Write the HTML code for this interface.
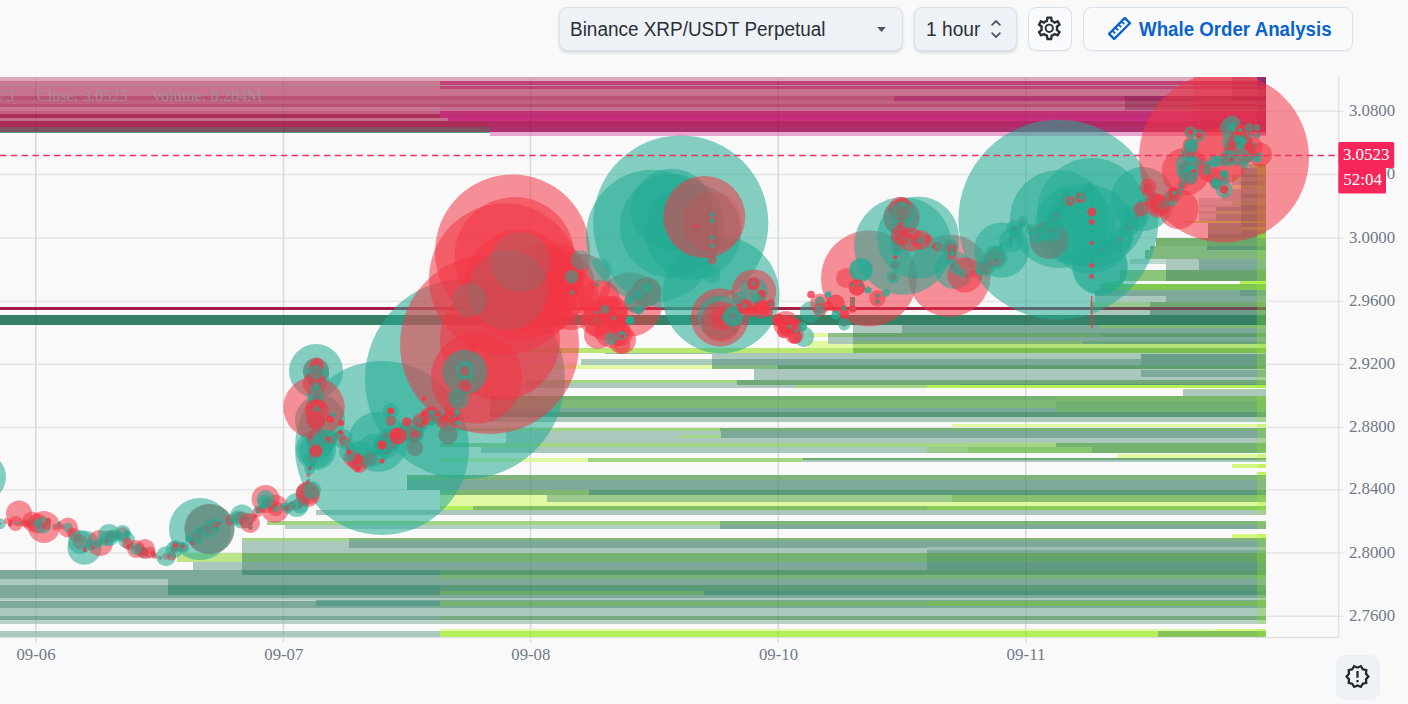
<!DOCTYPE html>
<html><head><meta charset="utf-8"><title>chart</title><style>
html,body{margin:0;padding:0}
body{width:1408px;height:704px;overflow:hidden;background:#f9f9f9;position:relative;font-family:"Liberation Sans",sans-serif}
.sel,.btn{position:absolute;top:6.9px;height:41.8px;border-radius:8.5px;box-sizing:content-box}
.sel{background:#eef1f5;border:1px solid #d8e0e8;box-shadow:0 1.5px 3px rgba(60,70,90,.18)}
.btn{background:#f9fafb;border:1px solid #d6e1ec;box-shadow:0 1px 2px rgba(60,70,90,.06)}
.t{position:absolute;top:10.4px;font-size:19.4px;line-height:22px;color:#2b3038;white-space:nowrap;transform-origin:0 50%}
.t.b{font-weight:bold;color:#0b63ce;top:9.8px}
.ib{position:absolute;left:1336.2px;top:655px;width:43.8px;height:45px;border-radius:9px;background:#eef1f5}
</style></head><body>
<svg width="1408" height="704" viewBox="0 0 1408 704" style="position:absolute;left:0;top:0" shape-rendering="auto">
<defs><clipPath id="cp"><rect x="0" y="77" width="1338.75" height="560"/></clipPath></defs>
<rect x="0" y="110.5" width="1343.75" height="1.5" fill="#e4e5e6"/>
<rect x="0" y="173.75" width="1343.75" height="1.5" fill="#e4e5e6"/>
<rect x="0" y="237.25" width="1343.75" height="1.5" fill="#e4e5e6"/>
<rect x="0" y="300.65" width="1343.75" height="1.5" fill="#e4e5e6"/>
<rect x="0" y="363.55" width="1343.75" height="1.5" fill="#e4e5e6"/>
<rect x="0" y="426.75" width="1343.75" height="1.5" fill="#e4e5e6"/>
<rect x="0" y="489.05" width="1343.75" height="1.5" fill="#e4e5e6"/>
<rect x="0" y="552.25" width="1343.75" height="1.5" fill="#e4e5e6"/>
<rect x="0" y="615.55" width="1343.75" height="1.5" fill="#e4e5e6"/>
<rect x="35.0" y="77" width="1.5" height="560" fill="#e4e5e6"/>
<rect x="282.75" y="77" width="1.5" height="560" fill="#e4e5e6"/>
<rect x="529.75" y="77" width="1.5" height="560" fill="#e4e5e6"/>
<rect x="777.5" y="77" width="1.5" height="560" fill="#e4e5e6"/>
<rect x="1025.0" y="77" width="1.5" height="560" fill="#e4e5e6"/>
<g clip-path="url(#cp)">
<g shape-rendering="crispEdges">
<rect x="852.75" y="324.50" width="48.75" height="8.50" fill="#abc8bd"/>
<rect x="901.50" y="324.50" width="364.00" height="8.50" fill="#7ca99a"/>
<rect x="1100.00" y="325.30" width="165.50" height="2.40" fill="#80b878"/>
<rect x="807.70" y="333.00" width="20.30" height="3.60" fill="#e0f9a2"/>
<rect x="828.00" y="333.00" width="24.75" height="3.60" fill="#8cc084"/>
<rect x="852.75" y="333.00" width="247.25" height="3.60" fill="#68a470"/>
<rect x="1100.00" y="333.00" width="165.50" height="3.60" fill="#5f9e70"/>
<rect x="828.00" y="336.60" width="24.75" height="3.90" fill="#abc8bd"/>
<rect x="852.75" y="336.60" width="412.75" height="3.90" fill="#7ca99a"/>
<rect x="807.70" y="340.50" width="20.30" height="3.25" fill="#e0f9a2"/>
<rect x="828.00" y="340.50" width="24.75" height="3.25" fill="#abc8bd"/>
<rect x="852.75" y="340.50" width="230.25" height="3.25" fill="#7cb474"/>
<rect x="1083.00" y="340.50" width="182.50" height="3.25" fill="#6aa47c"/>
<rect x="807.70" y="343.75" width="45.05" height="3.85" fill="#e0f9a2"/>
<rect x="852.75" y="343.75" width="412.75" height="3.85" fill="#b4e478"/>
<rect x="526.00" y="347.60" width="326.75" height="5.70" fill="#b8e870"/>
<rect x="852.75" y="347.60" width="412.75" height="5.70" fill="#7cc050"/>
<rect x="605.00" y="353.30" width="107.00" height="0.70" fill="#9dbdb0"/>
<rect x="712.00" y="353.30" width="553.50" height="0.70" fill="#abc8bd"/>
<rect x="712.00" y="354.00" width="553.50" height="5.00" fill="#abc8bd"/>
<rect x="580.50" y="359.00" width="131.50" height="5.60" fill="#abc8bd"/>
<rect x="712.00" y="359.00" width="553.50" height="5.60" fill="#7ca99a"/>
<rect x="526.00" y="364.60" width="186.00" height="4.40" fill="#e0f9a2"/>
<rect x="712.00" y="364.60" width="66.00" height="4.40" fill="#84ba84"/>
<rect x="778.00" y="364.60" width="487.50" height="4.40" fill="#5f9e70"/>
<rect x="754.00" y="369.00" width="511.50" height="10.50" fill="#abc8bd"/>
<rect x="526.00" y="379.50" width="210.75" height="3.50" fill="#a3d585"/>
<rect x="736.75" y="379.50" width="528.75" height="3.50" fill="#70a878"/>
<rect x="526.00" y="383.00" width="210.75" height="2.00" fill="#abc8bd"/>
<rect x="736.75" y="383.00" width="528.75" height="2.00" fill="#70a878"/>
<rect x="526.00" y="385.00" width="269.00" height="3.00" fill="#abc8bd"/>
<rect x="795.00" y="385.00" width="131.50" height="3.00" fill="#a3d585"/>
<rect x="926.50" y="385.00" width="339.00" height="3.00" fill="#b4ee58"/>
<rect x="489.50" y="396.00" width="776.00" height="4.00" fill="#74b272"/>
<rect x="489.50" y="400.00" width="776.00" height="8.00" fill="#80b878"/>
<rect x="489.50" y="408.00" width="776.00" height="3.50" fill="#7ca99a"/>
<rect x="489.50" y="411.50" width="776.00" height="5.25" fill="#5a9a78"/>
<rect x="489.50" y="416.75" width="776.00" height="5.25" fill="#abc8bd"/>
<rect x="951.50" y="423.75" width="314.00" height="3.25" fill="#e0f9a2"/>
<rect x="439.50" y="427.50" width="280.50" height="3.50" fill="#a3d585"/>
<rect x="720.00" y="427.50" width="545.50" height="3.50" fill="#78b078"/>
<rect x="506.00" y="431.00" width="214.50" height="4.00" fill="#abc8bd"/>
<rect x="720.50" y="431.00" width="545.00" height="4.00" fill="#7ca99a"/>
<rect x="506.00" y="435.00" width="173.00" height="2.50" fill="#abc8bd"/>
<rect x="679.00" y="435.00" width="41.50" height="2.50" fill="#a3d585"/>
<rect x="720.50" y="435.00" width="545.00" height="2.50" fill="#7ca99a"/>
<rect x="506.00" y="437.50" width="759.50" height="5.50" fill="#abc8bd"/>
<rect x="439.50" y="443.00" width="616.50" height="3.50" fill="#a3d585"/>
<rect x="1056.00" y="443.00" width="209.50" height="3.50" fill="#74b272"/>
<rect x="481.00" y="446.50" width="445.50" height="6.00" fill="#abc8bd"/>
<rect x="926.50" y="446.50" width="41.50" height="6.00" fill="#98cc88"/>
<rect x="968.00" y="446.50" width="124.00" height="6.00" fill="#88c870"/>
<rect x="1092.00" y="446.50" width="173.50" height="6.00" fill="#74b272"/>
<rect x="1117.00" y="454.00" width="148.50" height="3.50" fill="#e0f9a2"/>
<rect x="439.50" y="457.50" width="148.50" height="2.50" fill="#e0f9a2"/>
<rect x="588.00" y="457.50" width="214.75" height="2.50" fill="#a3d585"/>
<rect x="802.75" y="457.50" width="462.75" height="2.50" fill="#70a878"/>
<rect x="439.50" y="460.00" width="148.50" height="2.00" fill="#e0f9a2"/>
<rect x="588.00" y="460.00" width="214.75" height="2.00" fill="#a3d585"/>
<rect x="802.75" y="460.00" width="462.75" height="2.00" fill="#abc8bd"/>
<rect x="1232.00" y="464.00" width="33.50" height="3.50" fill="#d4f880"/>
<rect x="1257.00" y="472.00" width="8.50" height="2.50" fill="#d4f880"/>
<rect x="407.00" y="474.50" width="858.50" height="5.50" fill="#80b47c"/>
<rect x="407.00" y="480.00" width="858.50" height="9.75" fill="#7ca99a"/>
<rect x="439.50" y="489.75" width="149.25" height="5.25" fill="#80b870"/>
<rect x="588.75" y="489.75" width="676.75" height="5.25" fill="#5a9a78"/>
<rect x="439.50" y="495.00" width="107.50" height="7.00" fill="#e0f9a2"/>
<rect x="547.00" y="495.00" width="404.50" height="7.00" fill="#9cca8c"/>
<rect x="951.50" y="495.00" width="314.00" height="7.00" fill="#88c270"/>
<rect x="439.50" y="502.00" width="826.00" height="4.25" fill="#e0f9a2"/>
<rect x="439.50" y="506.25" width="33.50" height="3.75" fill="#b4ee58"/>
<rect x="473.00" y="506.25" width="453.50" height="3.75" fill="#80c060"/>
<rect x="926.50" y="506.25" width="339.00" height="3.75" fill="#88cc58"/>
<rect x="316.00" y="510.00" width="949.50" height="5.00" fill="#abc8bd"/>
<rect x="267.00" y="521.25" width="453.00" height="3.75" fill="#a3d585"/>
<rect x="720.00" y="521.25" width="545.50" height="3.75" fill="#80b47c"/>
<rect x="285.00" y="525.00" width="435.00" height="3.50" fill="#b4d0c6"/>
<rect x="720.00" y="525.00" width="545.50" height="3.50" fill="#7ca99a"/>
<rect x="1232.00" y="533.50" width="33.50" height="4.00" fill="#d4f880"/>
<rect x="242.00" y="538.00" width="107.00" height="3.25" fill="#a3d585"/>
<rect x="349.00" y="538.00" width="916.50" height="3.25" fill="#80b47c"/>
<rect x="242.00" y="541.25" width="107.00" height="6.25" fill="#abc8bd"/>
<rect x="349.00" y="541.25" width="916.50" height="6.25" fill="#7ca99a"/>
<rect x="242.00" y="547.50" width="684.50" height="5.00" fill="#abc8bd"/>
<rect x="926.50" y="547.50" width="339.00" height="5.00" fill="#7ca99a"/>
<rect x="926.50" y="547.00" width="339.00" height="2.70" fill="#9cc0b2"/>
<rect x="176.50" y="552.50" width="65.50" height="9.50" fill="#bde488"/>
<rect x="242.00" y="552.50" width="684.50" height="9.50" fill="#74b272"/>
<rect x="926.50" y="552.50" width="339.00" height="9.50" fill="#64a466"/>
<rect x="193.00" y="562.00" width="49.00" height="8.00" fill="#abc8bd"/>
<rect x="242.00" y="562.00" width="684.50" height="8.00" fill="#7ca99a"/>
<rect x="926.50" y="562.00" width="339.00" height="8.00" fill="#5f9a84"/>
<rect x="0.00" y="570.00" width="242.00" height="4.50" fill="#7ca99a"/>
<rect x="242.00" y="570.00" width="197.50" height="4.50" fill="#4f927e"/>
<rect x="439.50" y="570.00" width="826.00" height="4.50" fill="#5a9a70"/>
<rect x="0.00" y="574.50" width="439.50" height="4.25" fill="#7ca99a"/>
<rect x="439.50" y="574.50" width="826.00" height="4.25" fill="#78b478"/>
<rect x="0.00" y="578.75" width="168.00" height="6.25" fill="#abc8bd"/>
<rect x="168.00" y="578.75" width="1097.50" height="6.25" fill="#7ca99a"/>
<rect x="0.00" y="585.00" width="168.00" height="5.50" fill="#7ca99a"/>
<rect x="168.00" y="585.00" width="271.50" height="5.50" fill="#4f927e"/>
<rect x="439.50" y="585.00" width="826.00" height="5.50" fill="#5a9a78"/>
<rect x="0.00" y="590.50" width="168.00" height="4.25" fill="#7ca99a"/>
<rect x="168.00" y="590.50" width="271.50" height="4.25" fill="#4f927e"/>
<rect x="439.50" y="590.50" width="264.50" height="4.25" fill="#68a868"/>
<rect x="704.00" y="590.50" width="561.50" height="4.25" fill="#4f927e"/>
<rect x="0.00" y="594.75" width="1265.50" height="2.75" fill="#7ca99a"/>
<rect x="0.00" y="597.50" width="1265.50" height="2.00" fill="#abc8bd"/>
<rect x="0.00" y="599.50" width="316.00" height="1.50" fill="#c4d8d0"/>
<rect x="316.00" y="599.50" width="949.50" height="1.50" fill="#7ca99a"/>
<rect x="0.00" y="601.00" width="316.00" height="5.25" fill="#7ca99a"/>
<rect x="316.00" y="601.00" width="123.50" height="5.25" fill="#5a9a88"/>
<rect x="439.50" y="601.00" width="487.00" height="5.25" fill="#74b070"/>
<rect x="926.50" y="601.00" width="339.00" height="5.25" fill="#78b860"/>
<rect x="0.00" y="606.25" width="1265.50" height="1.25" fill="#7ca99a"/>
<rect x="0.00" y="607.50" width="1265.50" height="8.75" fill="#abc8bd"/>
<rect x="0.00" y="616.25" width="439.50" height="3.75" fill="#7ca99a"/>
<rect x="439.50" y="616.25" width="826.00" height="3.75" fill="#74aa7c"/>
<rect x="0.00" y="620.00" width="1265.50" height="3.75" fill="#b8d0c8"/>
<rect x="439.50" y="628.75" width="775.50" height="2.50" fill="#e0f9a2"/>
<rect x="1215.00" y="628.75" width="50.50" height="2.50" fill="#d4f880"/>
<rect x="0.00" y="631.25" width="439.50" height="5.75" fill="#abc8bd"/>
<rect x="439.50" y="631.25" width="718.50" height="5.75" fill="#b4ee58"/>
<rect x="1158.00" y="631.25" width="107.50" height="5.75" fill="#84c25c"/>
<rect x="1156.00" y="238.00" width="51.00" height="8.00" fill="#78b070"/>
<rect x="1207.00" y="238.00" width="58.50" height="8.00" fill="#6aa870"/>
<rect x="1150.00" y="246.00" width="57.00" height="4.00" fill="#80b880"/>
<rect x="1207.00" y="246.00" width="58.50" height="4.00" fill="#5a9a78"/>
<rect x="1145.00" y="250.00" width="120.50" height="8.50" fill="#80b880"/>
<rect x="1130.00" y="258.50" width="36.00" height="5.50" fill="#c0d8d0"/>
<rect x="1166.00" y="258.50" width="33.00" height="5.50" fill="#abc8bd"/>
<rect x="1199.00" y="258.50" width="66.50" height="5.50" fill="#7ca99a"/>
<rect x="1166.00" y="264.00" width="33.00" height="6.00" fill="#abc8bd"/>
<rect x="1199.00" y="264.00" width="66.50" height="6.00" fill="#7ca99a"/>
<rect x="1120.00" y="270.00" width="46.00" height="11.00" fill="#8cc47c"/>
<rect x="1166.00" y="270.00" width="99.50" height="11.00" fill="#68a470"/>
<rect x="1105.00" y="281.00" width="18.00" height="3.00" fill="#a8d888"/>
<rect x="1240.00" y="281.00" width="25.50" height="3.00" fill="#b0f050"/>
<rect x="1100.00" y="284.00" width="165.50" height="6.00" fill="#80c850"/>
<rect x="1095.00" y="290.00" width="145.00" height="6.00" fill="#7ca99a"/>
<rect x="1240.00" y="290.00" width="25.50" height="6.00" fill="#6a9e88"/>
<rect x="1095.00" y="296.00" width="71.00" height="5.50" fill="#abc8bd"/>
<rect x="1166.00" y="296.00" width="99.50" height="5.50" fill="#7ca99a"/>
<rect x="1090.00" y="301.50" width="60.00" height="5.50" fill="#98c890"/>
<rect x="1150.00" y="301.50" width="115.50" height="5.50" fill="#70a870"/>
<rect x="1090.00" y="310.25" width="60.00" height="5.00" fill="#abc8bd"/>
<rect x="1150.00" y="310.25" width="115.50" height="5.00" fill="#6a9e88"/>
<rect x="1141.00" y="354.00" width="124.50" height="5.00" fill="#6a9e88"/>
<rect x="1141.00" y="359.00" width="124.50" height="5.60" fill="#6a9e88"/>
<rect x="1141.00" y="369.60" width="124.50" height="6.90" fill="#7ca99a"/>
<rect x="960.00" y="383.80" width="305.50" height="1.40" fill="#5a9a78"/>
<rect x="1183.00" y="389.00" width="82.50" height="6.50" fill="#abc8bd"/>
<rect x="1056.00" y="395.50" width="209.50" height="5.50" fill="#78b868"/>
<rect x="1056.00" y="401.00" width="209.50" height="11.00" fill="#70b070"/>
<rect x="1248.50" y="164.30" width="8.90" height="3.70" fill="#a3d585"/>
<rect x="1257.40" y="164.30" width="8.10" height="3.70" fill="#84c25c"/>
<rect x="1240.80" y="168.00" width="16.60" height="5.50" fill="#7ca99a"/>
<rect x="1257.40" y="168.00" width="8.10" height="5.50" fill="#84c25c"/>
<rect x="1231.50" y="173.50" width="9.30" height="3.50" fill="#abc8bd"/>
<rect x="1240.80" y="173.50" width="24.70" height="3.50" fill="#5a9a78"/>
<rect x="1231.50" y="177.00" width="9.30" height="4.00" fill="#a3d585"/>
<rect x="1240.80" y="177.00" width="24.70" height="4.00" fill="#7ca99a"/>
<rect x="1231.50" y="181.00" width="9.30" height="4.00" fill="#abc8bd"/>
<rect x="1240.80" y="181.00" width="24.70" height="4.00" fill="#5a9a78"/>
<rect x="1231.50" y="185.00" width="9.30" height="3.50" fill="#e0f9a2"/>
<rect x="1240.80" y="185.00" width="24.70" height="3.50" fill="#74b272"/>
<rect x="1231.50" y="188.50" width="9.30" height="5.50" fill="#abc8bd"/>
<rect x="1240.80" y="188.50" width="24.70" height="5.50" fill="#7ca99a"/>
<rect x="1222.00" y="194.00" width="18.80" height="3.50" fill="#abc8bd"/>
<rect x="1240.80" y="194.00" width="24.70" height="3.50" fill="#5a9a78"/>
<rect x="1199.00" y="197.50" width="23.00" height="3.50" fill="#c4d8d0"/>
<rect x="1222.00" y="197.50" width="18.80" height="3.50" fill="#abc8bd"/>
<rect x="1240.80" y="197.50" width="24.70" height="3.50" fill="#7ca99a"/>
<rect x="1199.00" y="201.00" width="32.50" height="3.50" fill="#c4d8d0"/>
<rect x="1231.50" y="201.00" width="9.30" height="3.50" fill="#a3d585"/>
<rect x="1240.80" y="201.00" width="24.70" height="3.50" fill="#74b272"/>
<rect x="1199.00" y="204.50" width="41.80" height="2.50" fill="#abc8bd"/>
<rect x="1240.80" y="204.50" width="24.70" height="2.50" fill="#5a9a78"/>
<rect x="1199.00" y="207.00" width="16.80" height="4.00" fill="#c4d8d0"/>
<rect x="1215.80" y="207.00" width="25.00" height="4.00" fill="#7ca99a"/>
<rect x="1240.80" y="207.00" width="24.70" height="4.00" fill="#5a9a78"/>
<rect x="1199.00" y="211.00" width="16.80" height="3.00" fill="#abc8bd"/>
<rect x="1215.80" y="211.00" width="25.00" height="3.00" fill="#a3d585"/>
<rect x="1240.80" y="211.00" width="24.70" height="3.00" fill="#74b272"/>
<rect x="1199.00" y="214.00" width="16.80" height="4.00" fill="#c4d8d0"/>
<rect x="1215.80" y="214.00" width="25.00" height="4.00" fill="#7ca99a"/>
<rect x="1240.80" y="214.00" width="24.70" height="4.00" fill="#5a9a78"/>
<rect x="1199.00" y="218.00" width="16.80" height="2.60" fill="#abc8bd"/>
<rect x="1215.80" y="218.00" width="25.00" height="2.60" fill="#7ca99a"/>
<rect x="1240.80" y="218.00" width="24.70" height="2.60" fill="#5a9a78"/>
<rect x="1185.00" y="220.60" width="55.80" height="2.80" fill="#b4ee58"/>
<rect x="1240.80" y="220.60" width="24.70" height="2.80" fill="#84c25c"/>
<rect x="1207.50" y="223.40" width="33.30" height="3.60" fill="#7ca99a"/>
<rect x="1240.80" y="223.40" width="24.70" height="3.60" fill="#5a9a78"/>
<rect x="1207.50" y="227.00" width="33.30" height="3.00" fill="#74b272"/>
<rect x="1240.80" y="227.00" width="24.70" height="3.00" fill="#84c25c"/>
<rect x="1207.50" y="230.00" width="33.30" height="4.00" fill="#7ca99a"/>
<rect x="1240.80" y="230.00" width="24.70" height="4.00" fill="#5a9a78"/>
<rect x="1207.50" y="234.00" width="49.90" height="4.00" fill="#5a9a78"/>
<rect x="1257.40" y="234.00" width="8.10" height="4.00" fill="#84c25c"/>
<rect x="0.00" y="307.00" width="1265.50" height="3.25" fill="#a51c45"/>
<rect x="1090.00" y="307.00" width="175.50" height="3.25" fill="rgba(46,125,96,0.45)"/>
<rect x="0.00" y="315.25" width="1265.50" height="9.50" fill="#368066"/>
<rect x="0.00" y="77.00" width="1265.50" height="3.70" fill="#dba4b6" fill-opacity="0.96"/>
<rect x="0.00" y="80.70" width="439.50" height="3.80" fill="#c8728e" fill-opacity="0.96"/>
<rect x="439.50" y="80.70" width="826.00" height="3.80" fill="#c03a72" fill-opacity="0.96"/>
<rect x="0.00" y="84.50" width="439.50" height="1.70" fill="#a8888e" fill-opacity="0.96"/>
<rect x="439.50" y="84.50" width="826.00" height="1.70" fill="#b58a96" fill-opacity="0.96"/>
<rect x="0.00" y="86.20" width="439.50" height="2.55" fill="#c66c8a" fill-opacity="0.96"/>
<rect x="439.50" y="86.20" width="826.00" height="2.55" fill="#c03a72" fill-opacity="0.96"/>
<rect x="0.00" y="88.75" width="1265.50" height="6.85" fill="#c66c8a" fill-opacity="0.96"/>
<rect x="0.00" y="95.60" width="894.00" height="4.20" fill="#b84c70" fill-opacity="0.96"/>
<rect x="894.00" y="95.60" width="371.50" height="4.20" fill="#b0306a" fill-opacity="0.96"/>
<rect x="0.00" y="99.80" width="894.00" height="1.45" fill="#c05c7c" fill-opacity="0.96"/>
<rect x="894.00" y="99.80" width="371.50" height="1.45" fill="#b0306a" fill-opacity="0.96"/>
<rect x="0.00" y="101.25" width="1265.50" height="2.75" fill="#c05c7c" fill-opacity="0.96"/>
<rect x="0.00" y="104.00" width="1265.50" height="3.30" fill="#b54a6e" fill-opacity="0.96"/>
<rect x="0.00" y="107.30" width="439.50" height="3.20" fill="#c87090" fill-opacity="0.96"/>
<rect x="439.50" y="107.30" width="826.00" height="3.20" fill="#c4688a" fill-opacity="0.96"/>
<rect x="0.00" y="110.50" width="439.50" height="3.20" fill="#be5a7a" fill-opacity="0.96"/>
<rect x="439.50" y="110.50" width="826.00" height="3.20" fill="#c02a72" fill-opacity="0.96"/>
<rect x="0.00" y="113.70" width="439.50" height="4.30" fill="#a8254f" fill-opacity="0.96"/>
<rect x="439.50" y="113.70" width="826.00" height="4.30" fill="#bd2670" fill-opacity="0.96"/>
<rect x="0.00" y="118.00" width="448.00" height="3.00" fill="#c46a88" fill-opacity="0.96"/>
<rect x="448.00" y="118.00" width="817.50" height="3.00" fill="#c8287a" fill-opacity="0.96"/>
<rect x="0.00" y="121.00" width="489.50" height="6.00" fill="#a8234e" fill-opacity="0.96"/>
<rect x="489.50" y="121.00" width="776.00" height="6.00" fill="#b02060" fill-opacity="0.96"/>
<rect x="0.00" y="127.00" width="489.50" height="5.20" fill="#7a4a5c" fill-opacity="0.96"/>
<rect x="489.50" y="127.00" width="776.00" height="5.20" fill="#a82868" fill-opacity="0.96"/>
<rect x="0.00" y="132.20" width="489.50" height="1.00" fill="#4a9a80" fill-opacity="0.96"/>
<rect x="489.50" y="132.20" width="776.00" height="1.00" fill="#e8a0d0" fill-opacity="0.96"/>
<rect x="489.50" y="133.20" width="776.00" height="2.30" fill="#e8a0d0" fill-opacity="0.96"/>
<rect x="1125.00" y="96.25" width="140.50" height="13.75" fill="rgba(120,30,70,0.35)"/>
<rect x="1193.00" y="77.00" width="72.50" height="58.00" fill="rgba(200,30,60,0.25)"/>
<rect x="1232.00" y="77.00" width="33.50" height="23.00" fill="rgba(150,20,60,0.3)"/>
<rect x="1257.00" y="77.00" width="8.50" height="8.50" fill="rgba(110,20,110,0.6)"/>
<rect x="1257.00" y="85.50" width="8.50" height="49.50" fill="rgba(150,20,80,0.25)"/>
<rect x="1257.40" y="164.30" width="8.10" height="71.70" fill="rgba(170,220,30,0.35)"/>
<rect x="1257.40" y="236.00" width="8.10" height="152.00" fill="rgba(150,235,40,0.28)"/>
<rect x="1257.40" y="395.50" width="8.10" height="26.50" fill="rgba(150,235,40,0.28)"/>
<rect x="1257.40" y="423.75" width="8.10" height="28.75" fill="rgba(150,235,40,0.28)"/>
<rect x="1257.40" y="454.00" width="8.10" height="8.00" fill="rgba(150,235,40,0.28)"/>
<rect x="1257.40" y="464.00" width="8.10" height="3.50" fill="rgba(150,235,40,0.28)"/>
<rect x="1257.40" y="472.00" width="8.10" height="43.00" fill="rgba(150,235,40,0.28)"/>
<rect x="1257.40" y="521.00" width="8.10" height="7.50" fill="rgba(150,235,40,0.28)"/>
<rect x="1257.40" y="533.50" width="8.10" height="90.25" fill="rgba(150,235,40,0.28)"/>
<rect x="1257.40" y="628.75" width="8.10" height="8.25" fill="rgba(150,235,40,0.28)"/>
</g>
<g font-family="Liberation Serif, serif" font-size="16.4" fill="#9d9699" fill-opacity="0.85"><text x="-2.2" y="100.6">73</text><text x="36.75" y="100.6">Close: 3.0523</text><text x="151.25" y="100.6">Volume: 8.284M</text></g>
<rect x="35.0" y="77" width="1.5" height="560" fill="#000" fill-opacity="0.05"/>
<rect x="282.75" y="77" width="1.5" height="560" fill="#000" fill-opacity="0.05"/>
<rect x="529.75" y="77" width="1.5" height="560" fill="#000" fill-opacity="0.05"/>
<rect x="777.5" y="77" width="1.5" height="560" fill="#000" fill-opacity="0.05"/>
<rect x="1025.0" y="77" width="1.5" height="560" fill="#000" fill-opacity="0.05"/>
<circle cx="-18.0" cy="477.0" r="24.0" fill="#22ab94" fill-opacity="0.55"/>
<circle cx="465.0" cy="379.0" r="100.0" fill="#22ab94" fill-opacity="0.55"/>
<circle cx="382.0" cy="448.0" r="87.0" fill="#22ab94" fill-opacity="0.55"/>
<circle cx="489.5" cy="344.5" r="89.5" fill="#f23645" fill-opacity="0.55"/>
<circle cx="476.6" cy="377.8" r="45.6" fill="#f23645" fill-opacity="0.55"/>
<circle cx="500.0" cy="340.0" r="60.0" fill="#f23645" fill-opacity="0.55"/>
<circle cx="512.5" cy="252.0" r="77.5" fill="#f23645" fill-opacity="0.55"/>
<circle cx="514.5" cy="257.0" r="60.0" fill="#f23645" fill-opacity="0.55"/>
<circle cx="504.6" cy="279.0" r="75.6" fill="#f23645" fill-opacity="0.55"/>
<circle cx="520.0" cy="285.0" r="55.0" fill="#f23645" fill-opacity="0.55"/>
<circle cx="540.0" cy="290.0" r="45.0" fill="#f23645" fill-opacity="0.55"/>
<circle cx="560.0" cy="285.0" r="35.0" fill="#f23645" fill-opacity="0.55"/>
<circle cx="630.0" cy="304.6" r="32.0" fill="#f23645" fill-opacity="0.55"/>
<circle cx="597.0" cy="319.5" r="17.0" fill="#f23645" fill-opacity="0.55"/>
<circle cx="583.0" cy="282.0" r="28.0" fill="#f23645" fill-opacity="0.55"/>
<circle cx="570.0" cy="300.0" r="30.0" fill="#f23645" fill-opacity="0.55"/>
<circle cx="560.0" cy="268.0" r="24.0" fill="#f23645" fill-opacity="0.55"/>
<circle cx="520.5" cy="262.0" r="30.0" fill="#22ab94" fill-opacity="0.16"/>
<circle cx="508.0" cy="290.0" r="40.0" fill="#22ab94" fill-opacity="0.14"/>
<circle cx="470.0" cy="300.0" r="17.0" fill="#22ab94" fill-opacity="0.22"/>
<circle cx="680.7" cy="223.0" r="87.6" fill="#22ab94" fill-opacity="0.55"/>
<circle cx="652.4" cy="236.2" r="66.4" fill="#22ab94" fill-opacity="0.55"/>
<circle cx="671.7" cy="209.7" r="41.0" fill="#22ab94" fill-opacity="0.55"/>
<circle cx="672.0" cy="226.0" r="52.0" fill="#22ab94" fill-opacity="0.55"/>
<circle cx="693.0" cy="232.0" r="48.0" fill="#22ab94" fill-opacity="0.55"/>
<circle cx="721.0" cy="295.0" r="58.5" fill="#22ab94" fill-opacity="0.55"/>
<circle cx="704.3" cy="217.0" r="41.0" fill="#f23645" fill-opacity="0.55"/>
<circle cx="712.0" cy="222.0" r="30.0" fill="#f23645" fill-opacity="0.18"/>
<circle cx="869.0" cy="278.5" r="48.0" fill="#f23645" fill-opacity="0.55"/>
<circle cx="949.4" cy="275.7" r="41.3" fill="#f23645" fill-opacity="0.55"/>
<circle cx="903.0" cy="246.0" r="48.8" fill="#22ab94" fill-opacity="0.55"/>
<circle cx="918.0" cy="237.5" r="41.0" fill="#22ab94" fill-opacity="0.55"/>
<circle cx="901.5" cy="217.5" r="18.0" fill="#f23645" fill-opacity="0.55"/>
<circle cx="901.5" cy="217.5" r="18.0" fill="#22ab94" fill-opacity="0.55"/>
<circle cx="1058.4" cy="219.7" r="100.0" fill="#22ab94" fill-opacity="0.55"/>
<circle cx="1059.0" cy="219.0" r="49.0" fill="#22ab94" fill-opacity="0.55"/>
<circle cx="1091.7" cy="212.5" r="54.5" fill="#22ab94" fill-opacity="0.55"/>
<circle cx="1090.0" cy="229.5" r="44.0" fill="#22ab94" fill-opacity="0.55"/>
<circle cx="1100.0" cy="267.0" r="28.0" fill="#22ab94" fill-opacity="0.55"/>
<circle cx="1100.0" cy="267.0" r="27.0" fill="#22ab94" fill-opacity="0.4"/>
<circle cx="1075.0" cy="225.0" r="40.0" fill="#22ab94" fill-opacity="0.5"/>
<circle cx="1142.8" cy="199.0" r="32.0" fill="#22ab94" fill-opacity="0.55"/>
<circle cx="1049.0" cy="240.0" r="19.0" fill="#f23645" fill-opacity="0.55"/>
<circle cx="1049.0" cy="240.0" r="19.0" fill="#22ab94" fill-opacity="0.55"/>
<circle cx="1001.5" cy="250.0" r="27.5" fill="#22ab94" fill-opacity="0.55"/>
<circle cx="1224.0" cy="157.5" r="85.0" fill="#f23645" fill-opacity="0.55"/>
<circle cx="1219.5" cy="156.0" r="29.0" fill="#f23645" fill-opacity="0.55"/>
<circle cx="1185.5" cy="171.6" r="24.0" fill="#f23645" fill-opacity="0.55"/>
<circle cx="1178.6" cy="209.0" r="20.0" fill="#f23645" fill-opacity="0.55"/>
<circle cx="719.8" cy="317.4" r="29.0" fill="#f23645" fill-opacity="0.55"/>
<circle cx="719.8" cy="317.4" r="22.0" fill="#22ab94" fill-opacity="0.55"/>
<circle cx="721.0" cy="321.6" r="20.0" fill="#f23645" fill-opacity="0.55"/>
<circle cx="753.9" cy="291.8" r="22.4" fill="#f23645" fill-opacity="0.55"/>
<circle cx="753.9" cy="291.8" r="14.0" fill="#22ab94" fill-opacity="0.55"/>
<circle cx="316.0" cy="371.0" r="27.0" fill="#22ab94" fill-opacity="0.55"/>
<circle cx="320.0" cy="420.0" r="25.0" fill="#22ab94" fill-opacity="0.55"/>
<circle cx="316.0" cy="450.0" r="20.0" fill="#22ab94" fill-opacity="0.55"/>
<circle cx="378.0" cy="441.7" r="30.0" fill="#22ab94" fill-opacity="0.55"/>
<circle cx="314.0" cy="407.6" r="30.7" fill="#f23645" fill-opacity="0.55"/>
<circle cx="200.0" cy="529.0" r="31.0" fill="#22ab94" fill-opacity="0.55"/>
<circle cx="209.5" cy="529.0" r="25.0" fill="#f23645" fill-opacity="0.55"/>
<circle cx="209.5" cy="529.0" r="25.0" fill="#22ab94" fill-opacity="0.55"/>
<circle cx="954.0" cy="270.0" r="19.0" fill="#22ab94" fill-opacity="0.55"/>
<circle cx="965.0" cy="275.0" r="17.5" fill="#f23645" fill-opacity="0.55"/>
<circle cx="1239.7" cy="150.3" r="15.6" fill="#f23645" fill-opacity="0.55"/>
<circle cx="1239.7" cy="150.3" r="15.6" fill="#22ab94" fill-opacity="0.55"/>
<circle cx="19.0" cy="513.4" r="13.0" fill="#f23645" fill-opacity="0.55"/>
<circle cx="44.0" cy="526.9" r="16.0" fill="#f23645" fill-opacity="0.55"/>
<circle cx="84.4" cy="547.8" r="17.0" fill="#22ab94" fill-opacity="0.55"/>
<circle cx="100.0" cy="543.0" r="13.0" fill="#f23645" fill-opacity="0.55"/>
<circle cx="265.6" cy="499.0" r="14.0" fill="#f23645" fill-opacity="0.55"/>
<circle cx="275.0" cy="508.8" r="14.0" fill="#f23645" fill-opacity="0.55"/>
<circle cx="785.9" cy="323.8" r="12.8" fill="#f23645" fill-opacity="0.55"/>
<circle cx="646.7" cy="292.0" r="14.7" fill="#f23645" fill-opacity="0.55"/>
<circle cx="646.7" cy="292.0" r="14.7" fill="#22ab94" fill-opacity="0.55"/>
<circle cx="605.0" cy="318.0" r="22.0" fill="#f23645" fill-opacity="0.55"/>
<circle cx="612.0" cy="330.0" r="18.0" fill="#f23645" fill-opacity="0.55"/>
<circle cx="598.0" cy="335.0" r="14.0" fill="#f23645" fill-opacity="0.55"/>
<circle cx="622.0" cy="340.0" r="14.0" fill="#f23645" fill-opacity="0.55"/>
<circle cx="600.0" cy="300.0" r="20.0" fill="#f23645" fill-opacity="0.55"/>
<circle cx="612.0" cy="312.0" r="16.0" fill="#f23645" fill-opacity="0.7"/>
<circle cx="464.9" cy="372.0" r="22.4" fill="#f23645" fill-opacity="0.55"/>
<circle cx="464.9" cy="372.0" r="22.4" fill="#22ab94" fill-opacity="0.55"/>
<circle cx="373.7" cy="450.0" r="16.0" fill="#22ab94" fill-opacity="0.55"/>
<circle cx="360.0" cy="455.0" r="14.0" fill="#22ab94" fill-opacity="0.55"/>
<circle cx="316.0" cy="451.0" r="17.0" fill="#22ab94" fill-opacity="0.55"/>
<circle cx="316.0" cy="371.0" r="13.0" fill="#f23645" fill-opacity="0.55"/>
<circle cx="316.0" cy="371.0" r="13.0" fill="#22ab94" fill-opacity="0.55"/>
<rect x="850.00" y="297.00" width="5.00" height="14.00" fill="#a07060"/>
<line x1="1091.7" y1="296" x2="1091.7" y2="328" stroke="#f23645" stroke-width="1.5" stroke-opacity="0.8"/>
<line x1="316" y1="360" x2="316" y2="372" stroke="#22ab94" stroke-width="1.5" stroke-opacity="0.8"/>
<circle cx="0.1" cy="523.8" r="1.7" fill="#f23645" fill-opacity="0.55"/>
<circle cx="0.1" cy="523.8" r="5.5" fill="#22ab94" fill-opacity="0.55"/>
<circle cx="6.7" cy="520.9" r="3.0" fill="#f23645" fill-opacity="0.55"/>
<circle cx="6.7" cy="520.9" r="0.5" fill="#22ab94" fill-opacity="0.55"/>
<circle cx="11.0" cy="521.6" r="1.8" fill="#f23645" fill-opacity="0.55"/>
<circle cx="11.0" cy="521.6" r="0.6" fill="#22ab94" fill-opacity="0.55"/>
<circle cx="10.0" cy="524.5" r="2.0" fill="#f23645" fill-opacity="0.85"/>
<circle cx="15.5" cy="523.4" r="7.5" fill="#f23645" fill-opacity="0.55"/>
<circle cx="15.5" cy="523.4" r="1.4" fill="#22ab94" fill-opacity="0.55"/>
<circle cx="20.3" cy="523.3" r="1.1" fill="#f23645" fill-opacity="0.55"/>
<circle cx="20.3" cy="523.3" r="1.8" fill="#22ab94" fill-opacity="0.55"/>
<circle cx="25.3" cy="523.2" r="4.0" fill="#f23645" fill-opacity="0.55"/>
<circle cx="25.3" cy="523.2" r="0.9" fill="#22ab94" fill-opacity="0.55"/>
<circle cx="28.7" cy="524.0" r="4.0" fill="#f23645" fill-opacity="0.55"/>
<circle cx="28.7" cy="524.0" r="1.6" fill="#22ab94" fill-opacity="0.55"/>
<circle cx="27.9" cy="523.3" r="2.0" fill="#f23645" fill-opacity="0.85"/>
<circle cx="32.1" cy="521.5" r="10.0" fill="#f23645" fill-opacity="0.55"/>
<circle cx="32.1" cy="521.5" r="3.3" fill="#22ab94" fill-opacity="0.55"/>
<circle cx="37.7" cy="523.4" r="10.0" fill="#f23645" fill-opacity="0.55"/>
<circle cx="37.7" cy="523.4" r="2.9" fill="#22ab94" fill-opacity="0.55"/>
<circle cx="42.7" cy="525.3" r="3.6" fill="#f23645" fill-opacity="0.55"/>
<circle cx="42.7" cy="525.3" r="8.5" fill="#22ab94" fill-opacity="0.55"/>
<circle cx="46.3" cy="525.9" r="4.0" fill="#f23645" fill-opacity="0.55"/>
<circle cx="46.3" cy="525.9" r="0.5" fill="#22ab94" fill-opacity="0.55"/>
<circle cx="48.5" cy="522.8" r="2.6" fill="#f23645" fill-opacity="0.55"/>
<circle cx="48.5" cy="522.8" r="1.0" fill="#22ab94" fill-opacity="0.55"/>
<circle cx="48.5" cy="520.2" r="2.4" fill="#f23645" fill-opacity="0.85"/>
<circle cx="55.7" cy="527.0" r="3.4" fill="#f23645" fill-opacity="0.55"/>
<circle cx="55.7" cy="527.0" r="1.3" fill="#22ab94" fill-opacity="0.55"/>
<circle cx="59.2" cy="524.5" r="1.0" fill="#f23645" fill-opacity="0.55"/>
<circle cx="59.2" cy="524.5" r="2.6" fill="#22ab94" fill-opacity="0.55"/>
<circle cx="59.3" cy="522.6" r="1.3" fill="#22ab94" fill-opacity="0.85"/>
<circle cx="62.4" cy="526.8" r="2.6" fill="#f23645" fill-opacity="0.55"/>
<circle cx="62.4" cy="526.8" r="1.0" fill="#22ab94" fill-opacity="0.55"/>
<circle cx="67.9" cy="527.5" r="10.0" fill="#f23645" fill-opacity="0.55"/>
<circle cx="67.9" cy="527.5" r="4.8" fill="#22ab94" fill-opacity="0.55"/>
<circle cx="71.1" cy="531.9" r="4.6" fill="#f23645" fill-opacity="0.55"/>
<circle cx="71.1" cy="531.9" r="0.7" fill="#22ab94" fill-opacity="0.55"/>
<circle cx="70.4" cy="530.6" r="1.3" fill="#22ab94" fill-opacity="0.85"/>
<circle cx="74.4" cy="534.6" r="6.5" fill="#f23645" fill-opacity="0.55"/>
<circle cx="74.4" cy="534.6" r="0.8" fill="#22ab94" fill-opacity="0.55"/>
<circle cx="78.3" cy="537.8" r="4.0" fill="#f23645" fill-opacity="0.55"/>
<circle cx="78.3" cy="537.8" r="1.2" fill="#22ab94" fill-opacity="0.55"/>
<circle cx="79.2" cy="537.6" r="2.0" fill="#22ab94" fill-opacity="0.85"/>
<circle cx="80.2" cy="542.0" r="7.6" fill="#f23645" fill-opacity="0.55"/>
<circle cx="80.2" cy="542.0" r="12.0" fill="#22ab94" fill-opacity="0.55"/>
<circle cx="85.7" cy="547.2" r="1.2" fill="#f23645" fill-opacity="0.55"/>
<circle cx="85.7" cy="547.2" r="1.8" fill="#22ab94" fill-opacity="0.55"/>
<circle cx="84.9" cy="549.9" r="2.0" fill="#f23645" fill-opacity="0.85"/>
<circle cx="91.9" cy="545.1" r="2.4" fill="#f23645" fill-opacity="0.55"/>
<circle cx="91.9" cy="545.1" r="5.5" fill="#22ab94" fill-opacity="0.55"/>
<circle cx="92.9" cy="547.9" r="1.6" fill="#f23645" fill-opacity="0.85"/>
<circle cx="97.9" cy="544.1" r="2.6" fill="#f23645" fill-opacity="0.55"/>
<circle cx="97.9" cy="544.1" r="4.0" fill="#22ab94" fill-opacity="0.55"/>
<circle cx="101.4" cy="541.7" r="2.0" fill="#f23645" fill-opacity="0.55"/>
<circle cx="101.4" cy="541.7" r="4.0" fill="#22ab94" fill-opacity="0.55"/>
<circle cx="105.9" cy="538.5" r="1.5" fill="#f23645" fill-opacity="0.55"/>
<circle cx="105.9" cy="538.5" r="3.0" fill="#22ab94" fill-opacity="0.55"/>
<circle cx="106.8" cy="539.4" r="1.3" fill="#22ab94" fill-opacity="0.85"/>
<circle cx="107.2" cy="538.1" r="2.4" fill="#f23645" fill-opacity="0.55"/>
<circle cx="107.2" cy="538.1" r="7.5" fill="#22ab94" fill-opacity="0.55"/>
<circle cx="106.6" cy="541.2" r="2.4" fill="#f23645" fill-opacity="0.85"/>
<circle cx="110.6" cy="535.3" r="4.6" fill="#f23645" fill-opacity="0.55"/>
<circle cx="110.6" cy="535.3" r="1.4" fill="#22ab94" fill-opacity="0.55"/>
<circle cx="112.6" cy="535.9" r="4.9" fill="#f23645" fill-opacity="0.55"/>
<circle cx="112.6" cy="535.9" r="6.5" fill="#22ab94" fill-opacity="0.55"/>
<circle cx="118.7" cy="535.4" r="1.3" fill="#f23645" fill-opacity="0.55"/>
<circle cx="118.7" cy="535.4" r="4.0" fill="#22ab94" fill-opacity="0.55"/>
<circle cx="122.5" cy="533.6" r="6.5" fill="#f23645" fill-opacity="0.55"/>
<circle cx="122.5" cy="533.6" r="8.5" fill="#22ab94" fill-opacity="0.55"/>
<circle cx="127.0" cy="533.3" r="1.8" fill="#f23645" fill-opacity="0.55"/>
<circle cx="127.0" cy="533.3" r="3.4" fill="#22ab94" fill-opacity="0.55"/>
<circle cx="126.5" cy="540.0" r="3.8" fill="#f23645" fill-opacity="0.55"/>
<circle cx="126.5" cy="540.0" r="8.5" fill="#22ab94" fill-opacity="0.55"/>
<circle cx="127.8" cy="544.1" r="5.5" fill="#f23645" fill-opacity="0.55"/>
<circle cx="127.8" cy="544.1" r="0.9" fill="#22ab94" fill-opacity="0.55"/>
<circle cx="128.5" cy="546.3" r="1.3" fill="#f23645" fill-opacity="0.85"/>
<circle cx="128.3" cy="546.4" r="2.2" fill="#f23645" fill-opacity="0.55"/>
<circle cx="128.3" cy="546.4" r="0.7" fill="#22ab94" fill-opacity="0.55"/>
<circle cx="128.4" cy="548.7" r="1.3" fill="#f23645" fill-opacity="0.85"/>
<circle cx="132.8" cy="547.2" r="1.2" fill="#f23645" fill-opacity="0.55"/>
<circle cx="132.8" cy="547.2" r="2.2" fill="#22ab94" fill-opacity="0.55"/>
<circle cx="139.1" cy="549.2" r="5.5" fill="#f23645" fill-opacity="0.55"/>
<circle cx="139.1" cy="549.2" r="1.9" fill="#22ab94" fill-opacity="0.55"/>
<circle cx="139.1" cy="551.6" r="1.6" fill="#22ab94" fill-opacity="0.85"/>
<circle cx="143.5" cy="552.6" r="4.1" fill="#f23645" fill-opacity="0.55"/>
<circle cx="143.5" cy="552.6" r="5.5" fill="#22ab94" fill-opacity="0.55"/>
<circle cx="143.4" cy="551.8" r="2.0" fill="#22ab94" fill-opacity="0.85"/>
<circle cx="144.9" cy="548.9" r="10.0" fill="#f23645" fill-opacity="0.55"/>
<circle cx="144.9" cy="548.9" r="1.7" fill="#22ab94" fill-opacity="0.55"/>
<circle cx="152.9" cy="553.3" r="2.0" fill="#f23645" fill-opacity="0.55"/>
<circle cx="152.9" cy="553.3" r="2.6" fill="#22ab94" fill-opacity="0.55"/>
<circle cx="152.7" cy="553.2" r="1.6" fill="#f23645" fill-opacity="0.85"/>
<circle cx="154.8" cy="555.9" r="3.0" fill="#f23645" fill-opacity="0.55"/>
<circle cx="154.8" cy="555.9" r="0.8" fill="#22ab94" fill-opacity="0.55"/>
<circle cx="154.4" cy="555.6" r="1.3" fill="#22ab94" fill-opacity="0.85"/>
<circle cx="160.2" cy="557.7" r="2.2" fill="#f23645" fill-opacity="0.55"/>
<circle cx="160.2" cy="557.7" r="1.1" fill="#22ab94" fill-opacity="0.55"/>
<circle cx="166.0" cy="556.2" r="3.5" fill="#f23645" fill-opacity="0.55"/>
<circle cx="166.0" cy="556.2" r="10.0" fill="#22ab94" fill-opacity="0.55"/>
<circle cx="171.6" cy="555.9" r="4.6" fill="#f23645" fill-opacity="0.55"/>
<circle cx="171.6" cy="555.9" r="0.8" fill="#22ab94" fill-opacity="0.55"/>
<circle cx="174.2" cy="549.6" r="3.0" fill="#f23645" fill-opacity="0.55"/>
<circle cx="174.2" cy="549.6" r="8.5" fill="#22ab94" fill-opacity="0.55"/>
<circle cx="175.5" cy="546.7" r="4.7" fill="#f23645" fill-opacity="0.55"/>
<circle cx="175.5" cy="546.7" r="6.5" fill="#22ab94" fill-opacity="0.55"/>
<circle cx="175.4" cy="545.4" r="2.4" fill="#f23645" fill-opacity="0.85"/>
<circle cx="181.7" cy="544.8" r="2.3" fill="#f23645" fill-opacity="0.55"/>
<circle cx="181.7" cy="544.8" r="3.0" fill="#22ab94" fill-opacity="0.55"/>
<circle cx="183.7" cy="547.7" r="3.7" fill="#f23645" fill-opacity="0.55"/>
<circle cx="183.7" cy="547.7" r="5.5" fill="#22ab94" fill-opacity="0.55"/>
<circle cx="183.1" cy="546.5" r="1.3" fill="#f23645" fill-opacity="0.85"/>
<circle cx="188.0" cy="538.8" r="1.6" fill="#f23645" fill-opacity="0.55"/>
<circle cx="188.0" cy="538.8" r="3.0" fill="#22ab94" fill-opacity="0.55"/>
<circle cx="188.3" cy="540.0" r="2.4" fill="#22ab94" fill-opacity="0.85"/>
<circle cx="192.4" cy="541.4" r="2.4" fill="#f23645" fill-opacity="0.55"/>
<circle cx="192.4" cy="541.4" r="3.0" fill="#22ab94" fill-opacity="0.55"/>
<circle cx="192.8" cy="542.5" r="2.4" fill="#f23645" fill-opacity="0.85"/>
<circle cx="196.7" cy="536.9" r="4.9" fill="#f23645" fill-opacity="0.55"/>
<circle cx="196.7" cy="536.9" r="7.5" fill="#22ab94" fill-opacity="0.55"/>
<circle cx="195.8" cy="539.6" r="2.0" fill="#22ab94" fill-opacity="0.85"/>
<circle cx="198.4" cy="530.6" r="1.7" fill="#f23645" fill-opacity="0.55"/>
<circle cx="198.4" cy="530.6" r="3.4" fill="#22ab94" fill-opacity="0.55"/>
<circle cx="199.4" cy="531.0" r="1.6" fill="#f23645" fill-opacity="0.85"/>
<circle cx="201.0" cy="529.6" r="1.8" fill="#f23645" fill-opacity="0.55"/>
<circle cx="201.0" cy="529.6" r="4.0" fill="#22ab94" fill-opacity="0.55"/>
<circle cx="204.7" cy="528.6" r="2.4" fill="#f23645" fill-opacity="0.55"/>
<circle cx="204.7" cy="528.6" r="3.4" fill="#22ab94" fill-opacity="0.55"/>
<circle cx="204.5" cy="527.0" r="1.6" fill="#f23645" fill-opacity="0.85"/>
<circle cx="209.6" cy="529.0" r="5.8" fill="#f23645" fill-opacity="0.55"/>
<circle cx="209.6" cy="529.0" r="8.5" fill="#22ab94" fill-opacity="0.55"/>
<circle cx="214.9" cy="524.6" r="3.9" fill="#f23645" fill-opacity="0.55"/>
<circle cx="214.9" cy="524.6" r="6.5" fill="#22ab94" fill-opacity="0.55"/>
<circle cx="215.7" cy="525.6" r="1.6" fill="#f23645" fill-opacity="0.85"/>
<circle cx="219.5" cy="523.0" r="1.8" fill="#f23645" fill-opacity="0.55"/>
<circle cx="219.5" cy="523.0" r="0.8" fill="#22ab94" fill-opacity="0.55"/>
<circle cx="223.5" cy="521.8" r="0.5" fill="#f23645" fill-opacity="0.55"/>
<circle cx="223.5" cy="521.8" r="1.8" fill="#22ab94" fill-opacity="0.55"/>
<circle cx="227.8" cy="519.0" r="1.1" fill="#f23645" fill-opacity="0.55"/>
<circle cx="227.8" cy="519.0" r="1.8" fill="#22ab94" fill-opacity="0.55"/>
<circle cx="230.7" cy="519.8" r="5.5" fill="#f23645" fill-opacity="0.55"/>
<circle cx="230.7" cy="519.8" r="2.5" fill="#22ab94" fill-opacity="0.55"/>
<circle cx="231.2" cy="519.6" r="1.3" fill="#f23645" fill-opacity="0.85"/>
<circle cx="237.7" cy="517.9" r="5.9" fill="#f23645" fill-opacity="0.55"/>
<circle cx="237.7" cy="517.9" r="7.5" fill="#22ab94" fill-opacity="0.55"/>
<circle cx="242.0" cy="517.7" r="6.5" fill="#f23645" fill-opacity="0.55"/>
<circle cx="242.0" cy="517.7" r="2.3" fill="#22ab94" fill-opacity="0.55"/>
<circle cx="241.6" cy="518.9" r="2.0" fill="#f23645" fill-opacity="0.85"/>
<circle cx="246.3" cy="520.7" r="7.5" fill="#f23645" fill-opacity="0.55"/>
<circle cx="246.3" cy="520.7" r="1.2" fill="#22ab94" fill-opacity="0.55"/>
<circle cx="246.7" cy="519.0" r="2.4" fill="#22ab94" fill-opacity="0.85"/>
<circle cx="249.8" cy="523.9" r="1.7" fill="#f23645" fill-opacity="0.55"/>
<circle cx="249.8" cy="523.9" r="2.2" fill="#22ab94" fill-opacity="0.55"/>
<circle cx="250.5" cy="527.7" r="2.4" fill="#22ab94" fill-opacity="0.85"/>
<circle cx="254.0" cy="519.2" r="2.2" fill="#f23645" fill-opacity="0.55"/>
<circle cx="254.0" cy="519.2" r="0.8" fill="#22ab94" fill-opacity="0.55"/>
<circle cx="254.9" cy="516.3" r="2.0" fill="#f23645" fill-opacity="0.85"/>
<circle cx="257.2" cy="512.4" r="5.0" fill="#f23645" fill-opacity="0.55"/>
<circle cx="257.2" cy="512.4" r="1.3" fill="#22ab94" fill-opacity="0.55"/>
<circle cx="257.6" cy="511.6" r="1.6" fill="#f23645" fill-opacity="0.85"/>
<circle cx="258.4" cy="509.2" r="2.7" fill="#f23645" fill-opacity="0.55"/>
<circle cx="258.4" cy="509.2" r="4.0" fill="#22ab94" fill-opacity="0.55"/>
<circle cx="261.9" cy="509.1" r="3.4" fill="#f23645" fill-opacity="0.55"/>
<circle cx="261.9" cy="509.1" r="0.7" fill="#22ab94" fill-opacity="0.55"/>
<circle cx="262.6" cy="505.7" r="2.4" fill="#22ab94" fill-opacity="0.85"/>
<circle cx="265.4" cy="501.9" r="3.1" fill="#f23645" fill-opacity="0.55"/>
<circle cx="265.4" cy="501.9" r="7.5" fill="#22ab94" fill-opacity="0.55"/>
<circle cx="266.1" cy="501.7" r="2.7" fill="#f23645" fill-opacity="0.55"/>
<circle cx="266.1" cy="501.7" r="4.0" fill="#22ab94" fill-opacity="0.55"/>
<circle cx="271.2" cy="504.6" r="5.5" fill="#f23645" fill-opacity="0.55"/>
<circle cx="271.2" cy="504.6" r="1.8" fill="#22ab94" fill-opacity="0.55"/>
<circle cx="275.7" cy="508.7" r="7.5" fill="#f23645" fill-opacity="0.55"/>
<circle cx="275.7" cy="508.7" r="3.4" fill="#22ab94" fill-opacity="0.55"/>
<circle cx="282.9" cy="506.4" r="1.4" fill="#f23645" fill-opacity="0.55"/>
<circle cx="282.9" cy="506.4" r="3.4" fill="#22ab94" fill-opacity="0.55"/>
<circle cx="287.4" cy="508.2" r="3.4" fill="#f23645" fill-opacity="0.55"/>
<circle cx="287.4" cy="508.2" r="5.5" fill="#22ab94" fill-opacity="0.55"/>
<circle cx="286.5" cy="508.2" r="2.4" fill="#f23645" fill-opacity="0.85"/>
<circle cx="291.5" cy="506.2" r="4.6" fill="#f23645" fill-opacity="0.55"/>
<circle cx="291.5" cy="506.2" r="0.8" fill="#22ab94" fill-opacity="0.55"/>
<circle cx="291.2" cy="502.9" r="1.6" fill="#22ab94" fill-opacity="0.85"/>
<circle cx="296.8" cy="505.0" r="5.7" fill="#f23645" fill-opacity="0.55"/>
<circle cx="296.8" cy="505.0" r="12.0" fill="#22ab94" fill-opacity="0.55"/>
<circle cx="300.5" cy="503.8" r="1.9" fill="#f23645" fill-opacity="0.55"/>
<circle cx="300.5" cy="503.8" r="3.4" fill="#22ab94" fill-opacity="0.55"/>
<circle cx="300.6" cy="506.2" r="1.6" fill="#f23645" fill-opacity="0.85"/>
<circle cx="303.8" cy="500.8" r="3.6" fill="#f23645" fill-opacity="0.55"/>
<circle cx="303.8" cy="500.8" r="4.6" fill="#22ab94" fill-opacity="0.55"/>
<circle cx="305.6" cy="492.7" r="5.1" fill="#f23645" fill-opacity="0.55"/>
<circle cx="305.6" cy="492.7" r="10.0" fill="#22ab94" fill-opacity="0.55"/>
<circle cx="307.7" cy="495.1" r="12.0" fill="#f23645" fill-opacity="0.55"/>
<circle cx="307.7" cy="495.1" r="3.6" fill="#22ab94" fill-opacity="0.55"/>
<circle cx="307.3" cy="483.4" r="2.2" fill="#f23645" fill-opacity="0.55"/>
<circle cx="307.3" cy="483.4" r="1.1" fill="#22ab94" fill-opacity="0.55"/>
<circle cx="308.6" cy="480.0" r="0.5" fill="#f23645" fill-opacity="0.55"/>
<circle cx="308.6" cy="480.0" r="1.8" fill="#22ab94" fill-opacity="0.55"/>
<circle cx="307.7" cy="481.8" r="1.6" fill="#f23645" fill-opacity="0.85"/>
<circle cx="308.4" cy="475.0" r="2.2" fill="#f23645" fill-opacity="0.55"/>
<circle cx="308.4" cy="475.0" r="0.3" fill="#22ab94" fill-opacity="0.55"/>
<circle cx="309.1" cy="469.7" r="1.0" fill="#f23645" fill-opacity="0.55"/>
<circle cx="309.1" cy="469.7" r="1.8" fill="#22ab94" fill-opacity="0.55"/>
<circle cx="309.7" cy="469.2" r="2.1" fill="#f23645" fill-opacity="0.55"/>
<circle cx="309.7" cy="469.2" r="5.5" fill="#22ab94" fill-opacity="0.55"/>
<circle cx="310.1" cy="467.6" r="1.3" fill="#f23645" fill-opacity="0.85"/>
<circle cx="312.0" cy="464.0" r="1.9" fill="#f23645" fill-opacity="0.55"/>
<circle cx="312.0" cy="464.0" r="3.0" fill="#22ab94" fill-opacity="0.55"/>
<circle cx="311.0" cy="458.0" r="3.5" fill="#f23645" fill-opacity="0.55"/>
<circle cx="311.0" cy="458.0" r="7.5" fill="#22ab94" fill-opacity="0.55"/>
<circle cx="311.7" cy="454.5" r="2.4" fill="#22ab94" fill-opacity="0.85"/>
<circle cx="312.7" cy="454.0" r="1.2" fill="#f23645" fill-opacity="0.55"/>
<circle cx="312.7" cy="454.0" r="3.0" fill="#22ab94" fill-opacity="0.55"/>
<circle cx="313.5" cy="450.9" r="5.0" fill="#f23645" fill-opacity="0.55"/>
<circle cx="313.5" cy="450.9" r="1.4" fill="#22ab94" fill-opacity="0.55"/>
<circle cx="312.6" cy="443.1" r="2.1" fill="#f23645" fill-opacity="0.55"/>
<circle cx="312.6" cy="443.1" r="6.5" fill="#22ab94" fill-opacity="0.55"/>
<circle cx="312.4" cy="446.3" r="2.0" fill="#22ab94" fill-opacity="0.85"/>
<circle cx="314.8" cy="442.0" r="1.6" fill="#f23645" fill-opacity="0.55"/>
<circle cx="314.8" cy="442.0" r="2.6" fill="#22ab94" fill-opacity="0.55"/>
<circle cx="313.3" cy="437.2" r="4.0" fill="#f23645" fill-opacity="0.55"/>
<circle cx="313.3" cy="437.2" r="1.2" fill="#22ab94" fill-opacity="0.55"/>
<circle cx="312.5" cy="436.6" r="1.3" fill="#22ab94" fill-opacity="0.85"/>
<circle cx="314.6" cy="430.9" r="3.4" fill="#f23645" fill-opacity="0.55"/>
<circle cx="314.6" cy="430.9" r="1.5" fill="#22ab94" fill-opacity="0.55"/>
<circle cx="314.0" cy="427.8" r="3.0" fill="#f23645" fill-opacity="0.55"/>
<circle cx="314.0" cy="427.8" r="0.7" fill="#22ab94" fill-opacity="0.55"/>
<circle cx="314.6" cy="421.6" r="1.3" fill="#f23645" fill-opacity="0.55"/>
<circle cx="314.6" cy="421.6" r="4.6" fill="#22ab94" fill-opacity="0.55"/>
<circle cx="315.4" cy="419.7" r="1.3" fill="#22ab94" fill-opacity="0.85"/>
<circle cx="314.1" cy="416.2" r="6.5" fill="#f23645" fill-opacity="0.55"/>
<circle cx="314.1" cy="416.2" r="0.9" fill="#22ab94" fill-opacity="0.55"/>
<circle cx="315.7" cy="412.5" r="6.5" fill="#f23645" fill-opacity="0.55"/>
<circle cx="315.7" cy="412.5" r="3.0" fill="#22ab94" fill-opacity="0.55"/>
<circle cx="313.7" cy="407.1" r="3.9" fill="#f23645" fill-opacity="0.55"/>
<circle cx="313.7" cy="407.1" r="5.0" fill="#22ab94" fill-opacity="0.55"/>
<circle cx="313.6" cy="407.0" r="2.4" fill="#22ab94" fill-opacity="0.85"/>
<circle cx="315.7" cy="407.2" r="10.0" fill="#f23645" fill-opacity="0.55"/>
<circle cx="315.7" cy="407.2" r="1.8" fill="#22ab94" fill-opacity="0.55"/>
<circle cx="315.6" cy="409.4" r="1.3" fill="#f23645" fill-opacity="0.85"/>
<circle cx="314.9" cy="399.0" r="2.0" fill="#f23645" fill-opacity="0.55"/>
<circle cx="314.9" cy="399.0" r="7.5" fill="#22ab94" fill-opacity="0.55"/>
<circle cx="316.5" cy="398.7" r="3.4" fill="#f23645" fill-opacity="0.55"/>
<circle cx="316.5" cy="398.7" r="1.2" fill="#22ab94" fill-opacity="0.55"/>
<circle cx="317.5" cy="402.5" r="1.6" fill="#22ab94" fill-opacity="0.85"/>
<circle cx="315.3" cy="393.2" r="4.6" fill="#f23645" fill-opacity="0.55"/>
<circle cx="315.3" cy="393.2" r="8.5" fill="#22ab94" fill-opacity="0.55"/>
<circle cx="316.4" cy="385.8" r="1.5" fill="#f23645" fill-opacity="0.55"/>
<circle cx="316.4" cy="385.8" r="3.4" fill="#22ab94" fill-opacity="0.55"/>
<circle cx="315.2" cy="382.6" r="2.3" fill="#f23645" fill-opacity="0.55"/>
<circle cx="315.2" cy="382.6" r="6.5" fill="#22ab94" fill-opacity="0.55"/>
<circle cx="314.7" cy="382.8" r="1.3" fill="#22ab94" fill-opacity="0.85"/>
<circle cx="317.2" cy="376.2" r="4.5" fill="#f23645" fill-opacity="0.55"/>
<circle cx="317.2" cy="376.2" r="12.0" fill="#22ab94" fill-opacity="0.55"/>
<circle cx="316.9" cy="373.2" r="5.1" fill="#f23645" fill-opacity="0.55"/>
<circle cx="316.9" cy="373.2" r="6.5" fill="#22ab94" fill-opacity="0.55"/>
<circle cx="315.7" cy="370.3" r="2.3" fill="#f23645" fill-opacity="0.55"/>
<circle cx="315.7" cy="370.3" r="3.4" fill="#22ab94" fill-opacity="0.55"/>
<circle cx="316.3" cy="367.5" r="0.8" fill="#f23645" fill-opacity="0.55"/>
<circle cx="316.3" cy="367.5" r="1.8" fill="#22ab94" fill-opacity="0.55"/>
<circle cx="315.8" cy="368.3" r="1.6" fill="#22ab94" fill-opacity="0.85"/>
<circle cx="316.8" cy="363.8" r="6.5" fill="#f23645" fill-opacity="0.55"/>
<circle cx="316.8" cy="363.8" r="1.6" fill="#22ab94" fill-opacity="0.55"/>
<circle cx="316.9" cy="360.4" r="1.3" fill="#f23645" fill-opacity="0.85"/>
<circle cx="316.4" cy="367.2" r="7.5" fill="#f23645" fill-opacity="0.55"/>
<circle cx="316.4" cy="367.2" r="1.4" fill="#22ab94" fill-opacity="0.55"/>
<circle cx="315.5" cy="371.6" r="3.4" fill="#f23645" fill-opacity="0.55"/>
<circle cx="315.5" cy="371.6" r="1.4" fill="#22ab94" fill-opacity="0.55"/>
<circle cx="314.8" cy="378.6" r="7.5" fill="#f23645" fill-opacity="0.55"/>
<circle cx="314.8" cy="378.6" r="1.5" fill="#22ab94" fill-opacity="0.55"/>
<circle cx="314.8" cy="383.4" r="12.0" fill="#f23645" fill-opacity="0.55"/>
<circle cx="314.8" cy="383.4" r="1.9" fill="#22ab94" fill-opacity="0.55"/>
<circle cx="316.7" cy="384.8" r="1.6" fill="#f23645" fill-opacity="0.55"/>
<circle cx="316.7" cy="384.8" r="2.6" fill="#22ab94" fill-opacity="0.55"/>
<circle cx="316.3" cy="389.9" r="2.6" fill="#f23645" fill-opacity="0.55"/>
<circle cx="316.3" cy="389.9" r="0.7" fill="#22ab94" fill-opacity="0.55"/>
<circle cx="315.4" cy="389.0" r="1.6" fill="#22ab94" fill-opacity="0.85"/>
<circle cx="316.8" cy="393.6" r="4.0" fill="#f23645" fill-opacity="0.55"/>
<circle cx="316.8" cy="393.6" r="0.6" fill="#22ab94" fill-opacity="0.55"/>
<circle cx="317.0" cy="401.8" r="2.6" fill="#f23645" fill-opacity="0.55"/>
<circle cx="317.0" cy="401.8" r="0.9" fill="#22ab94" fill-opacity="0.55"/>
<circle cx="316.3" cy="405.3" r="6.5" fill="#f23645" fill-opacity="0.55"/>
<circle cx="316.3" cy="405.3" r="1.3" fill="#22ab94" fill-opacity="0.55"/>
<circle cx="316.0" cy="402.3" r="1.6" fill="#f23645" fill-opacity="0.85"/>
<circle cx="316.8" cy="411.4" r="12.0" fill="#f23645" fill-opacity="0.55"/>
<circle cx="316.8" cy="411.4" r="4.9" fill="#22ab94" fill-opacity="0.55"/>
<circle cx="316.0" cy="412.2" r="2.0" fill="#f23645" fill-opacity="0.85"/>
<circle cx="315.5" cy="415.7" r="4.0" fill="#f23645" fill-opacity="0.55"/>
<circle cx="315.5" cy="415.7" r="1.2" fill="#22ab94" fill-opacity="0.55"/>
<circle cx="316.3" cy="420.0" r="5.9" fill="#f23645" fill-opacity="0.55"/>
<circle cx="316.3" cy="420.0" r="10.0" fill="#22ab94" fill-opacity="0.55"/>
<circle cx="316.7" cy="426.2" r="1.9" fill="#f23645" fill-opacity="0.55"/>
<circle cx="316.7" cy="426.2" r="4.0" fill="#22ab94" fill-opacity="0.55"/>
<circle cx="316.8" cy="422.5" r="1.6" fill="#22ab94" fill-opacity="0.85"/>
<circle cx="316.6" cy="430.5" r="1.8" fill="#f23645" fill-opacity="0.55"/>
<circle cx="316.6" cy="430.5" r="0.7" fill="#22ab94" fill-opacity="0.55"/>
<circle cx="316.7" cy="432.6" r="4.2" fill="#f23645" fill-opacity="0.55"/>
<circle cx="316.7" cy="432.6" r="6.5" fill="#22ab94" fill-opacity="0.55"/>
<circle cx="317.2" cy="438.2" r="10.0" fill="#f23645" fill-opacity="0.55"/>
<circle cx="317.2" cy="438.2" r="1.8" fill="#22ab94" fill-opacity="0.55"/>
<circle cx="315.0" cy="443.9" r="2.6" fill="#f23645" fill-opacity="0.55"/>
<circle cx="315.0" cy="443.9" r="0.6" fill="#22ab94" fill-opacity="0.55"/>
<circle cx="315.9" cy="447.7" r="5.0" fill="#f23645" fill-opacity="0.55"/>
<circle cx="315.9" cy="447.7" r="1.0" fill="#22ab94" fill-opacity="0.55"/>
<circle cx="315.5" cy="444.0" r="1.6" fill="#f23645" fill-opacity="0.85"/>
<circle cx="317.1" cy="449.0" r="1.6" fill="#f23645" fill-opacity="0.55"/>
<circle cx="317.1" cy="449.0" r="4.6" fill="#22ab94" fill-opacity="0.55"/>
<circle cx="319.3" cy="447.8" r="6.0" fill="#f23645" fill-opacity="0.55"/>
<circle cx="319.3" cy="447.8" r="12.0" fill="#22ab94" fill-opacity="0.55"/>
<circle cx="324.2" cy="440.9" r="5.6" fill="#f23645" fill-opacity="0.55"/>
<circle cx="324.2" cy="440.9" r="12.0" fill="#22ab94" fill-opacity="0.55"/>
<circle cx="327.0" cy="440.1" r="2.9" fill="#f23645" fill-opacity="0.55"/>
<circle cx="327.0" cy="440.1" r="10.0" fill="#22ab94" fill-opacity="0.55"/>
<circle cx="327.9" cy="438.4" r="2.0" fill="#f23645" fill-opacity="0.85"/>
<circle cx="332.0" cy="439.5" r="4.0" fill="#f23645" fill-opacity="0.55"/>
<circle cx="332.0" cy="439.5" r="1.6" fill="#22ab94" fill-opacity="0.55"/>
<circle cx="335.2" cy="436.4" r="3.0" fill="#f23645" fill-opacity="0.55"/>
<circle cx="335.2" cy="436.4" r="4.0" fill="#22ab94" fill-opacity="0.55"/>
<circle cx="335.5" cy="432.5" r="1.3" fill="#22ab94" fill-opacity="0.85"/>
<circle cx="340.3" cy="435.6" r="4.6" fill="#f23645" fill-opacity="0.55"/>
<circle cx="340.3" cy="435.6" r="1.6" fill="#22ab94" fill-opacity="0.55"/>
<circle cx="342.8" cy="438.9" r="3.8" fill="#f23645" fill-opacity="0.55"/>
<circle cx="342.8" cy="438.9" r="10.0" fill="#22ab94" fill-opacity="0.55"/>
<circle cx="343.1" cy="441.9" r="2.0" fill="#22ab94" fill-opacity="0.85"/>
<circle cx="344.5" cy="441.6" r="5.5" fill="#f23645" fill-opacity="0.55"/>
<circle cx="344.5" cy="441.6" r="2.5" fill="#22ab94" fill-opacity="0.55"/>
<circle cx="347.8" cy="449.1" r="2.6" fill="#f23645" fill-opacity="0.55"/>
<circle cx="347.8" cy="449.1" r="1.2" fill="#22ab94" fill-opacity="0.55"/>
<circle cx="347.6" cy="447.1" r="1.3" fill="#f23645" fill-opacity="0.85"/>
<circle cx="349.6" cy="454.8" r="3.0" fill="#f23645" fill-opacity="0.55"/>
<circle cx="349.6" cy="454.8" r="0.5" fill="#22ab94" fill-opacity="0.55"/>
<circle cx="349.7" cy="455.9" r="1.6" fill="#f23645" fill-opacity="0.85"/>
<circle cx="351.7" cy="457.9" r="8.5" fill="#f23645" fill-opacity="0.55"/>
<circle cx="351.7" cy="457.9" r="3.5" fill="#22ab94" fill-opacity="0.55"/>
<circle cx="355.6" cy="461.2" r="8.5" fill="#f23645" fill-opacity="0.55"/>
<circle cx="355.6" cy="461.2" r="3.1" fill="#22ab94" fill-opacity="0.55"/>
<circle cx="355.2" cy="462.4" r="1.3" fill="#f23645" fill-opacity="0.85"/>
<circle cx="359.1" cy="464.5" r="8.5" fill="#f23645" fill-opacity="0.55"/>
<circle cx="359.1" cy="464.5" r="1.2" fill="#22ab94" fill-opacity="0.55"/>
<circle cx="363.8" cy="462.9" r="3.4" fill="#f23645" fill-opacity="0.55"/>
<circle cx="363.8" cy="462.9" r="1.2" fill="#22ab94" fill-opacity="0.55"/>
<circle cx="367.1" cy="456.8" r="2.1" fill="#f23645" fill-opacity="0.55"/>
<circle cx="367.1" cy="456.8" r="3.0" fill="#22ab94" fill-opacity="0.55"/>
<circle cx="368.0" cy="454.3" r="2.4" fill="#22ab94" fill-opacity="0.85"/>
<circle cx="369.9" cy="458.8" r="6.7" fill="#f23645" fill-opacity="0.55"/>
<circle cx="369.9" cy="458.8" r="8.5" fill="#22ab94" fill-opacity="0.55"/>
<circle cx="375.0" cy="454.3" r="0.9" fill="#f23645" fill-opacity="0.55"/>
<circle cx="375.0" cy="454.3" r="1.8" fill="#22ab94" fill-opacity="0.55"/>
<circle cx="378.8" cy="450.2" r="1.2" fill="#f23645" fill-opacity="0.55"/>
<circle cx="378.8" cy="450.2" r="2.2" fill="#22ab94" fill-opacity="0.55"/>
<circle cx="378.0" cy="451.2" r="1.6" fill="#22ab94" fill-opacity="0.85"/>
<circle cx="381.7" cy="447.0" r="5.1" fill="#f23645" fill-opacity="0.55"/>
<circle cx="381.7" cy="447.0" r="8.5" fill="#22ab94" fill-opacity="0.55"/>
<circle cx="380.8" cy="449.8" r="2.0" fill="#22ab94" fill-opacity="0.85"/>
<circle cx="386.4" cy="446.4" r="8.0" fill="#f23645" fill-opacity="0.55"/>
<circle cx="386.4" cy="446.4" r="12.0" fill="#22ab94" fill-opacity="0.55"/>
<circle cx="387.9" cy="441.1" r="9.0" fill="#f23645" fill-opacity="0.55"/>
<circle cx="387.9" cy="441.1" r="12.0" fill="#22ab94" fill-opacity="0.55"/>
<circle cx="391.8" cy="440.5" r="0.8" fill="#f23645" fill-opacity="0.55"/>
<circle cx="391.8" cy="440.5" r="2.6" fill="#22ab94" fill-opacity="0.55"/>
<circle cx="397.9" cy="435.1" r="2.6" fill="#f23645" fill-opacity="0.55"/>
<circle cx="397.9" cy="435.1" r="3.4" fill="#22ab94" fill-opacity="0.55"/>
<circle cx="398.7" cy="437.3" r="2.4" fill="#f23645" fill-opacity="0.85"/>
<circle cx="402.7" cy="427.6" r="2.5" fill="#f23645" fill-opacity="0.55"/>
<circle cx="402.7" cy="427.6" r="4.6" fill="#22ab94" fill-opacity="0.55"/>
<circle cx="401.8" cy="428.1" r="1.3" fill="#22ab94" fill-opacity="0.85"/>
<circle cx="404.3" cy="426.3" r="2.3" fill="#f23645" fill-opacity="0.55"/>
<circle cx="404.3" cy="426.3" r="3.4" fill="#22ab94" fill-opacity="0.55"/>
<circle cx="406.7" cy="424.0" r="2.6" fill="#f23645" fill-opacity="0.55"/>
<circle cx="406.7" cy="424.0" r="1.3" fill="#22ab94" fill-opacity="0.55"/>
<circle cx="411.1" cy="430.7" r="4.4" fill="#f23645" fill-opacity="0.55"/>
<circle cx="411.1" cy="430.7" r="12.0" fill="#22ab94" fill-opacity="0.55"/>
<circle cx="412.1" cy="433.9" r="8.0" fill="#f23645" fill-opacity="0.55"/>
<circle cx="412.1" cy="433.9" r="10.0" fill="#22ab94" fill-opacity="0.55"/>
<circle cx="414.7" cy="433.7" r="8.5" fill="#f23645" fill-opacity="0.55"/>
<circle cx="414.7" cy="433.7" r="1.3" fill="#22ab94" fill-opacity="0.55"/>
<circle cx="416.1" cy="430.6" r="5.5" fill="#f23645" fill-opacity="0.55"/>
<circle cx="416.1" cy="430.6" r="1.0" fill="#22ab94" fill-opacity="0.55"/>
<circle cx="420.3" cy="424.1" r="5.6" fill="#f23645" fill-opacity="0.55"/>
<circle cx="420.3" cy="424.1" r="8.5" fill="#22ab94" fill-opacity="0.55"/>
<circle cx="420.2" cy="420.8" r="7.5" fill="#f23645" fill-opacity="0.55"/>
<circle cx="420.2" cy="420.8" r="2.5" fill="#22ab94" fill-opacity="0.55"/>
<circle cx="420.6" cy="418.9" r="1.6" fill="#22ab94" fill-opacity="0.85"/>
<circle cx="422.1" cy="420.8" r="1.2" fill="#f23645" fill-opacity="0.55"/>
<circle cx="422.1" cy="420.8" r="3.0" fill="#22ab94" fill-opacity="0.55"/>
<circle cx="428.0" cy="416.6" r="8.5" fill="#f23645" fill-opacity="0.55"/>
<circle cx="428.0" cy="416.6" r="2.1" fill="#22ab94" fill-opacity="0.55"/>
<circle cx="431.7" cy="414.6" r="8.5" fill="#f23645" fill-opacity="0.55"/>
<circle cx="431.7" cy="414.6" r="4.2" fill="#22ab94" fill-opacity="0.55"/>
<circle cx="431.1" cy="411.8" r="1.6" fill="#f23645" fill-opacity="0.85"/>
<circle cx="438.3" cy="417.9" r="5.6" fill="#f23645" fill-opacity="0.55"/>
<circle cx="438.3" cy="417.9" r="7.5" fill="#22ab94" fill-opacity="0.55"/>
<circle cx="438.2" cy="414.0" r="2.4" fill="#f23645" fill-opacity="0.85"/>
<circle cx="441.5" cy="420.3" r="2.6" fill="#f23645" fill-opacity="0.55"/>
<circle cx="441.5" cy="420.3" r="0.6" fill="#22ab94" fill-opacity="0.55"/>
<circle cx="443.3" cy="422.3" r="6.5" fill="#f23645" fill-opacity="0.55"/>
<circle cx="443.3" cy="422.3" r="2.6" fill="#22ab94" fill-opacity="0.55"/>
<circle cx="448.9" cy="423.4" r="8.5" fill="#f23645" fill-opacity="0.55"/>
<circle cx="448.9" cy="423.4" r="2.9" fill="#22ab94" fill-opacity="0.55"/>
<circle cx="448.2" cy="422.9" r="2.0" fill="#22ab94" fill-opacity="0.85"/>
<circle cx="451.1" cy="417.0" r="8.5" fill="#f23645" fill-opacity="0.55"/>
<circle cx="451.1" cy="417.0" r="3.3" fill="#22ab94" fill-opacity="0.55"/>
<circle cx="451.0" cy="413.2" r="2.4" fill="#f23645" fill-opacity="0.85"/>
<circle cx="455.2" cy="416.2" r="4.0" fill="#f23645" fill-opacity="0.55"/>
<circle cx="455.2" cy="416.2" r="1.7" fill="#22ab94" fill-opacity="0.55"/>
<circle cx="456.1" cy="412.5" r="1.6" fill="#22ab94" fill-opacity="0.85"/>
<circle cx="457.6" cy="413.7" r="1.6" fill="#f23645" fill-opacity="0.55"/>
<circle cx="457.6" cy="413.7" r="2.2" fill="#22ab94" fill-opacity="0.55"/>
<circle cx="457.9" cy="403.6" r="4.0" fill="#f23645" fill-opacity="0.55"/>
<circle cx="457.9" cy="403.6" r="1.3" fill="#22ab94" fill-opacity="0.55"/>
<circle cx="458.8" cy="399.2" r="7.6" fill="#f23645" fill-opacity="0.55"/>
<circle cx="458.8" cy="399.2" r="10.0" fill="#22ab94" fill-opacity="0.55"/>
<circle cx="460.9" cy="392.8" r="0.5" fill="#f23645" fill-opacity="0.55"/>
<circle cx="460.9" cy="392.8" r="1.8" fill="#22ab94" fill-opacity="0.55"/>
<circle cx="462.5" cy="388.6" r="1.3" fill="#f23645" fill-opacity="0.55"/>
<circle cx="462.5" cy="388.6" r="3.0" fill="#22ab94" fill-opacity="0.55"/>
<circle cx="465.3" cy="384.8" r="5.0" fill="#f23645" fill-opacity="0.55"/>
<circle cx="465.3" cy="384.8" r="1.0" fill="#22ab94" fill-opacity="0.55"/>
<circle cx="466.0" cy="385.8" r="2.4" fill="#f23645" fill-opacity="0.85"/>
<circle cx="465.8" cy="379.6" r="4.5" fill="#f23645" fill-opacity="0.55"/>
<circle cx="465.8" cy="379.6" r="7.5" fill="#22ab94" fill-opacity="0.55"/>
<circle cx="466.4" cy="371.5" r="1.8" fill="#f23645" fill-opacity="0.55"/>
<circle cx="466.4" cy="371.5" r="2.6" fill="#22ab94" fill-opacity="0.55"/>
<circle cx="466.8" cy="368.7" r="2.9" fill="#f23645" fill-opacity="0.55"/>
<circle cx="466.8" cy="368.7" r="4.6" fill="#22ab94" fill-opacity="0.55"/>
<circle cx="718.1" cy="317.6" r="4.0" fill="#f23645" fill-opacity="0.55"/>
<circle cx="718.1" cy="317.6" r="1.2" fill="#22ab94" fill-opacity="0.55"/>
<circle cx="722.3" cy="318.2" r="12.0" fill="#f23645" fill-opacity="0.55"/>
<circle cx="722.3" cy="318.2" r="3.2" fill="#22ab94" fill-opacity="0.55"/>
<circle cx="721.9" cy="321.8" r="2.0" fill="#f23645" fill-opacity="0.85"/>
<circle cx="725.7" cy="317.1" r="7.5" fill="#f23645" fill-opacity="0.55"/>
<circle cx="725.7" cy="317.1" r="1.7" fill="#22ab94" fill-opacity="0.55"/>
<circle cx="731.9" cy="317.0" r="3.3" fill="#f23645" fill-opacity="0.55"/>
<circle cx="731.9" cy="317.0" r="10.0" fill="#22ab94" fill-opacity="0.55"/>
<circle cx="733.6" cy="316.1" r="3.0" fill="#f23645" fill-opacity="0.55"/>
<circle cx="733.6" cy="316.1" r="10.0" fill="#22ab94" fill-opacity="0.55"/>
<circle cx="737.3" cy="309.7" r="1.6" fill="#f23645" fill-opacity="0.55"/>
<circle cx="737.3" cy="309.7" r="3.0" fill="#22ab94" fill-opacity="0.55"/>
<circle cx="740.7" cy="307.2" r="2.1" fill="#f23645" fill-opacity="0.55"/>
<circle cx="740.7" cy="307.2" r="3.0" fill="#22ab94" fill-opacity="0.55"/>
<circle cx="743.0" cy="304.7" r="1.6" fill="#f23645" fill-opacity="0.55"/>
<circle cx="743.0" cy="304.7" r="3.0" fill="#22ab94" fill-opacity="0.55"/>
<circle cx="893.0" cy="277.0" r="3.4" fill="#f23645" fill-opacity="0.55"/>
<circle cx="893.0" cy="277.0" r="6.5" fill="#22ab94" fill-opacity="0.55"/>
<circle cx="892.9" cy="281.0" r="1.3" fill="#22ab94" fill-opacity="0.85"/>
<circle cx="894.2" cy="273.5" r="1.1" fill="#f23645" fill-opacity="0.55"/>
<circle cx="894.2" cy="273.5" r="1.8" fill="#22ab94" fill-opacity="0.55"/>
<circle cx="896.1" cy="268.2" r="0.7" fill="#f23645" fill-opacity="0.55"/>
<circle cx="896.1" cy="268.2" r="2.6" fill="#22ab94" fill-opacity="0.55"/>
<circle cx="895.1" cy="264.9" r="3.4" fill="#f23645" fill-opacity="0.55"/>
<circle cx="895.1" cy="264.9" r="5.0" fill="#22ab94" fill-opacity="0.55"/>
<circle cx="895.5" cy="257.3" r="1.3" fill="#f23645" fill-opacity="0.55"/>
<circle cx="895.5" cy="257.3" r="1.8" fill="#22ab94" fill-opacity="0.55"/>
<circle cx="895.3" cy="257.3" r="2.0" fill="#f23645" fill-opacity="0.85"/>
<circle cx="896.1" cy="252.5" r="1.0" fill="#f23645" fill-opacity="0.55"/>
<circle cx="896.1" cy="252.5" r="2.2" fill="#22ab94" fill-opacity="0.55"/>
<circle cx="896.2" cy="253.5" r="1.3" fill="#22ab94" fill-opacity="0.85"/>
<circle cx="896.9" cy="250.4" r="1.9" fill="#f23645" fill-opacity="0.55"/>
<circle cx="896.9" cy="250.4" r="4.6" fill="#22ab94" fill-opacity="0.55"/>
<circle cx="897.7" cy="251.3" r="1.3" fill="#22ab94" fill-opacity="0.85"/>
<circle cx="898.3" cy="246.2" r="4.7" fill="#f23645" fill-opacity="0.55"/>
<circle cx="898.3" cy="246.2" r="7.5" fill="#22ab94" fill-opacity="0.55"/>
<circle cx="896.8" cy="238.8" r="5.0" fill="#f23645" fill-opacity="0.55"/>
<circle cx="896.8" cy="238.8" r="7.5" fill="#22ab94" fill-opacity="0.55"/>
<circle cx="895.8" cy="241.0" r="1.3" fill="#22ab94" fill-opacity="0.85"/>
<circle cx="898.8" cy="239.6" r="2.5" fill="#f23645" fill-opacity="0.55"/>
<circle cx="898.8" cy="239.6" r="3.4" fill="#22ab94" fill-opacity="0.55"/>
<circle cx="897.9" cy="240.1" r="1.3" fill="#22ab94" fill-opacity="0.85"/>
<circle cx="898.6" cy="235.2" r="4.6" fill="#f23645" fill-opacity="0.55"/>
<circle cx="898.6" cy="235.2" r="1.6" fill="#22ab94" fill-opacity="0.55"/>
<circle cx="897.8" cy="228.9" r="5.9" fill="#f23645" fill-opacity="0.55"/>
<circle cx="897.8" cy="228.9" r="7.5" fill="#22ab94" fill-opacity="0.55"/>
<circle cx="898.4" cy="226.0" r="1.5" fill="#f23645" fill-opacity="0.55"/>
<circle cx="898.4" cy="226.0" r="2.6" fill="#22ab94" fill-opacity="0.55"/>
<circle cx="900.1" cy="224.5" r="3.0" fill="#f23645" fill-opacity="0.55"/>
<circle cx="900.1" cy="224.5" r="1.4" fill="#22ab94" fill-opacity="0.55"/>
<circle cx="900.6" cy="222.4" r="1.6" fill="#22ab94" fill-opacity="0.85"/>
<circle cx="900.1" cy="216.7" r="1.7" fill="#f23645" fill-opacity="0.55"/>
<circle cx="900.1" cy="216.7" r="2.6" fill="#22ab94" fill-opacity="0.55"/>
<circle cx="900.5" cy="216.4" r="2.0" fill="#f23645" fill-opacity="0.85"/>
<circle cx="899.8" cy="208.9" r="4.7" fill="#f23645" fill-opacity="0.55"/>
<circle cx="899.8" cy="208.9" r="7.5" fill="#22ab94" fill-opacity="0.55"/>
<circle cx="900.7" cy="208.8" r="12.0" fill="#f23645" fill-opacity="0.55"/>
<circle cx="900.7" cy="208.8" r="3.7" fill="#22ab94" fill-opacity="0.55"/>
<circle cx="900.9" cy="208.3" r="1.6" fill="#22ab94" fill-opacity="0.85"/>
<circle cx="902.2" cy="204.7" r="7.5" fill="#f23645" fill-opacity="0.55"/>
<circle cx="902.2" cy="204.7" r="3.2" fill="#22ab94" fill-opacity="0.55"/>
<circle cx="901.4" cy="210.3" r="4.0" fill="#f23645" fill-opacity="0.55"/>
<circle cx="901.4" cy="210.3" r="0.9" fill="#22ab94" fill-opacity="0.55"/>
<circle cx="901.8" cy="212.9" r="2.0" fill="#f23645" fill-opacity="0.85"/>
<circle cx="902.0" cy="213.6" r="5.0" fill="#f23645" fill-opacity="0.55"/>
<circle cx="902.0" cy="213.6" r="12.0" fill="#22ab94" fill-opacity="0.55"/>
<circle cx="901.2" cy="221.4" r="3.0" fill="#f23645" fill-opacity="0.55"/>
<circle cx="901.2" cy="221.4" r="1.3" fill="#22ab94" fill-opacity="0.55"/>
<circle cx="900.7" cy="220.8" r="1.3" fill="#22ab94" fill-opacity="0.85"/>
<circle cx="900.6" cy="225.2" r="2.6" fill="#f23645" fill-opacity="0.55"/>
<circle cx="900.6" cy="225.2" r="0.6" fill="#22ab94" fill-opacity="0.55"/>
<circle cx="901.9" cy="231.1" r="2.2" fill="#f23645" fill-opacity="0.55"/>
<circle cx="901.9" cy="231.1" r="0.7" fill="#22ab94" fill-opacity="0.55"/>
<circle cx="902.2" cy="233.4" r="3.4" fill="#f23645" fill-opacity="0.55"/>
<circle cx="902.2" cy="233.4" r="1.2" fill="#22ab94" fill-opacity="0.55"/>
<circle cx="900.8" cy="235.6" r="10.0" fill="#f23645" fill-opacity="0.55"/>
<circle cx="900.8" cy="235.6" r="2.7" fill="#22ab94" fill-opacity="0.55"/>
<circle cx="902.6" cy="237.9" r="5.5" fill="#f23645" fill-opacity="0.55"/>
<circle cx="902.6" cy="237.9" r="2.5" fill="#22ab94" fill-opacity="0.55"/>
<circle cx="907.2" cy="240.6" r="0.9" fill="#f23645" fill-opacity="0.55"/>
<circle cx="907.2" cy="240.6" r="3.0" fill="#22ab94" fill-opacity="0.55"/>
<circle cx="911.2" cy="239.6" r="12.0" fill="#f23645" fill-opacity="0.55"/>
<circle cx="911.2" cy="239.6" r="2.1" fill="#22ab94" fill-opacity="0.55"/>
<circle cx="910.9" cy="236.4" r="2.4" fill="#f23645" fill-opacity="0.85"/>
<circle cx="915.9" cy="240.9" r="5.5" fill="#f23645" fill-opacity="0.55"/>
<circle cx="915.9" cy="240.9" r="1.9" fill="#22ab94" fill-opacity="0.55"/>
<circle cx="916.6" cy="241.4" r="1.6" fill="#22ab94" fill-opacity="0.85"/>
<circle cx="920.8" cy="240.0" r="10.0" fill="#f23645" fill-opacity="0.55"/>
<circle cx="920.8" cy="240.0" r="3.5" fill="#22ab94" fill-opacity="0.55"/>
<circle cx="927.7" cy="238.9" r="4.6" fill="#f23645" fill-opacity="0.55"/>
<circle cx="927.7" cy="238.9" r="0.7" fill="#22ab94" fill-opacity="0.55"/>
<circle cx="928.4" cy="238.6" r="1.3" fill="#f23645" fill-opacity="0.85"/>
<circle cx="933.3" cy="245.8" r="2.2" fill="#f23645" fill-opacity="0.55"/>
<circle cx="933.3" cy="245.8" r="0.5" fill="#22ab94" fill-opacity="0.55"/>
<circle cx="937.6" cy="246.8" r="5.0" fill="#f23645" fill-opacity="0.55"/>
<circle cx="937.6" cy="246.8" r="2.2" fill="#22ab94" fill-opacity="0.55"/>
<circle cx="938.0" cy="244.2" r="2.0" fill="#22ab94" fill-opacity="0.85"/>
<circle cx="940.0" cy="249.2" r="0.7" fill="#f23645" fill-opacity="0.55"/>
<circle cx="940.0" cy="249.2" r="1.8" fill="#22ab94" fill-opacity="0.55"/>
<circle cx="945.3" cy="249.0" r="2.7" fill="#f23645" fill-opacity="0.55"/>
<circle cx="945.3" cy="249.0" r="4.0" fill="#22ab94" fill-opacity="0.55"/>
<circle cx="948.4" cy="247.6" r="2.2" fill="#f23645" fill-opacity="0.55"/>
<circle cx="948.4" cy="247.6" r="0.7" fill="#22ab94" fill-opacity="0.55"/>
<circle cx="948.2" cy="246.7" r="2.4" fill="#22ab94" fill-opacity="0.85"/>
<circle cx="950.6" cy="247.5" r="6.4" fill="#f23645" fill-opacity="0.55"/>
<circle cx="950.6" cy="247.5" r="8.5" fill="#22ab94" fill-opacity="0.55"/>
<circle cx="952.3" cy="248.8" r="4.0" fill="#f23645" fill-opacity="0.55"/>
<circle cx="952.3" cy="248.8" r="1.8" fill="#22ab94" fill-opacity="0.55"/>
<circle cx="951.5" cy="252.2" r="1.3" fill="#22ab94" fill-opacity="0.85"/>
<circle cx="952.0" cy="256.1" r="5.0" fill="#f23645" fill-opacity="0.55"/>
<circle cx="952.0" cy="256.1" r="0.8" fill="#22ab94" fill-opacity="0.55"/>
<circle cx="952.5" cy="253.5" r="2.4" fill="#22ab94" fill-opacity="0.85"/>
<circle cx="952.9" cy="263.5" r="1.8" fill="#f23645" fill-opacity="0.55"/>
<circle cx="952.9" cy="263.5" r="4.6" fill="#22ab94" fill-opacity="0.55"/>
<circle cx="952.5" cy="265.9" r="2.0" fill="#f23645" fill-opacity="0.85"/>
<circle cx="954.9" cy="268.5" r="1.5" fill="#f23645" fill-opacity="0.55"/>
<circle cx="954.9" cy="268.5" r="5.5" fill="#22ab94" fill-opacity="0.55"/>
<circle cx="957.8" cy="271.4" r="2.3" fill="#f23645" fill-opacity="0.55"/>
<circle cx="957.8" cy="271.4" r="3.4" fill="#22ab94" fill-opacity="0.55"/>
<circle cx="962.2" cy="273.4" r="1.9" fill="#f23645" fill-opacity="0.55"/>
<circle cx="962.2" cy="273.4" r="4.6" fill="#22ab94" fill-opacity="0.55"/>
<circle cx="967.2" cy="276.3" r="1.8" fill="#f23645" fill-opacity="0.55"/>
<circle cx="967.2" cy="276.3" r="0.5" fill="#22ab94" fill-opacity="0.55"/>
<circle cx="972.9" cy="274.0" r="3.4" fill="#f23645" fill-opacity="0.55"/>
<circle cx="972.9" cy="274.0" r="0.6" fill="#22ab94" fill-opacity="0.55"/>
<circle cx="978.6" cy="269.7" r="1.4" fill="#f23645" fill-opacity="0.55"/>
<circle cx="978.6" cy="269.7" r="2.6" fill="#22ab94" fill-opacity="0.55"/>
<circle cx="978.8" cy="272.3" r="2.4" fill="#22ab94" fill-opacity="0.85"/>
<circle cx="983.0" cy="266.4" r="5.2" fill="#f23645" fill-opacity="0.55"/>
<circle cx="983.0" cy="266.4" r="7.5" fill="#22ab94" fill-opacity="0.55"/>
<circle cx="985.9" cy="268.2" r="6.4" fill="#f23645" fill-opacity="0.55"/>
<circle cx="985.9" cy="268.2" r="8.5" fill="#22ab94" fill-opacity="0.55"/>
<circle cx="990.5" cy="263.7" r="2.2" fill="#f23645" fill-opacity="0.55"/>
<circle cx="990.5" cy="263.7" r="0.3" fill="#22ab94" fill-opacity="0.55"/>
<circle cx="995.6" cy="257.5" r="9.5" fill="#f23645" fill-opacity="0.55"/>
<circle cx="995.6" cy="257.5" r="12.0" fill="#22ab94" fill-opacity="0.55"/>
<circle cx="995.8" cy="260.4" r="2.0" fill="#f23645" fill-opacity="0.85"/>
<circle cx="997.1" cy="254.0" r="1.6" fill="#f23645" fill-opacity="0.55"/>
<circle cx="997.1" cy="254.0" r="8.5" fill="#22ab94" fill-opacity="0.55"/>
<circle cx="1001.0" cy="250.0" r="0.4" fill="#f23645" fill-opacity="0.55"/>
<circle cx="1001.0" cy="250.0" r="1.8" fill="#22ab94" fill-opacity="0.55"/>
<circle cx="1000.9" cy="246.2" r="1.6" fill="#22ab94" fill-opacity="0.85"/>
<circle cx="1002.7" cy="244.6" r="0.5" fill="#f23645" fill-opacity="0.55"/>
<circle cx="1002.7" cy="244.6" r="2.2" fill="#22ab94" fill-opacity="0.55"/>
<circle cx="1008.7" cy="244.8" r="0.4" fill="#f23645" fill-opacity="0.55"/>
<circle cx="1008.7" cy="244.8" r="3.4" fill="#22ab94" fill-opacity="0.55"/>
<circle cx="1011.1" cy="240.6" r="1.6" fill="#f23645" fill-opacity="0.55"/>
<circle cx="1011.1" cy="240.6" r="12.0" fill="#22ab94" fill-opacity="0.55"/>
<circle cx="1011.0" cy="241.3" r="2.0" fill="#22ab94" fill-opacity="0.85"/>
<circle cx="1011.2" cy="238.7" r="1.2" fill="#f23645" fill-opacity="0.55"/>
<circle cx="1011.2" cy="238.7" r="3.0" fill="#22ab94" fill-opacity="0.55"/>
<circle cx="1011.7" cy="236.0" r="1.3" fill="#22ab94" fill-opacity="0.85"/>
<circle cx="1014.1" cy="230.4" r="0.6" fill="#f23645" fill-opacity="0.55"/>
<circle cx="1014.1" cy="230.4" r="5.5" fill="#22ab94" fill-opacity="0.55"/>
<circle cx="1014.7" cy="228.4" r="2.1" fill="#f23645" fill-opacity="0.55"/>
<circle cx="1014.7" cy="228.4" r="8.5" fill="#22ab94" fill-opacity="0.55"/>
<circle cx="1019.9" cy="226.0" r="0.4" fill="#f23645" fill-opacity="0.55"/>
<circle cx="1019.9" cy="226.0" r="1.8" fill="#22ab94" fill-opacity="0.55"/>
<circle cx="1019.6" cy="228.9" r="1.3" fill="#22ab94" fill-opacity="0.85"/>
<circle cx="1022.7" cy="221.3" r="1.8" fill="#f23645" fill-opacity="0.55"/>
<circle cx="1022.7" cy="221.3" r="5.5" fill="#22ab94" fill-opacity="0.55"/>
<circle cx="1022.5" cy="225.3" r="2.4" fill="#22ab94" fill-opacity="0.85"/>
<circle cx="1028.2" cy="226.0" r="0.7" fill="#f23645" fill-opacity="0.55"/>
<circle cx="1028.2" cy="226.0" r="1.8" fill="#22ab94" fill-opacity="0.55"/>
<circle cx="1030.7" cy="229.6" r="0.6" fill="#f23645" fill-opacity="0.55"/>
<circle cx="1030.7" cy="229.6" r="1.8" fill="#22ab94" fill-opacity="0.55"/>
<circle cx="1030.5" cy="233.2" r="2.0" fill="#22ab94" fill-opacity="0.85"/>
<circle cx="1031.3" cy="229.5" r="2.3" fill="#f23645" fill-opacity="0.55"/>
<circle cx="1031.3" cy="229.5" r="5.5" fill="#22ab94" fill-opacity="0.55"/>
<circle cx="1032.2" cy="229.0" r="1.6" fill="#22ab94" fill-opacity="0.85"/>
<circle cx="1037.7" cy="235.6" r="1.1" fill="#f23645" fill-opacity="0.55"/>
<circle cx="1037.7" cy="235.6" r="8.5" fill="#22ab94" fill-opacity="0.55"/>
<circle cx="1041.8" cy="235.9" r="0.9" fill="#f23645" fill-opacity="0.55"/>
<circle cx="1041.8" cy="235.9" r="3.0" fill="#22ab94" fill-opacity="0.55"/>
<circle cx="1041.4" cy="235.7" r="2.0" fill="#22ab94" fill-opacity="0.85"/>
<circle cx="1043.7" cy="234.1" r="1.6" fill="#f23645" fill-opacity="0.55"/>
<circle cx="1043.7" cy="234.1" r="6.5" fill="#22ab94" fill-opacity="0.55"/>
<circle cx="1050.2" cy="234.7" r="0.7" fill="#f23645" fill-opacity="0.55"/>
<circle cx="1050.2" cy="234.7" r="3.4" fill="#22ab94" fill-opacity="0.55"/>
<circle cx="1051.5" cy="229.4" r="2.7" fill="#f23645" fill-opacity="0.55"/>
<circle cx="1051.5" cy="229.4" r="12.0" fill="#22ab94" fill-opacity="0.55"/>
<circle cx="1053.4" cy="225.6" r="1.0" fill="#f23645" fill-opacity="0.55"/>
<circle cx="1053.4" cy="225.6" r="5.5" fill="#22ab94" fill-opacity="0.55"/>
<circle cx="1053.5" cy="220.8" r="1.3" fill="#f23645" fill-opacity="0.55"/>
<circle cx="1053.5" cy="220.8" r="7.5" fill="#22ab94" fill-opacity="0.55"/>
<circle cx="1056.3" cy="216.6" r="4.5" fill="#f23645" fill-opacity="0.55"/>
<circle cx="1056.3" cy="216.6" r="10.0" fill="#22ab94" fill-opacity="0.55"/>
<circle cx="1056.5" cy="218.2" r="2.4" fill="#22ab94" fill-opacity="0.85"/>
<circle cx="1056.3" cy="214.2" r="1.2" fill="#f23645" fill-opacity="0.55"/>
<circle cx="1056.3" cy="214.2" r="5.0" fill="#22ab94" fill-opacity="0.55"/>
<circle cx="1059.3" cy="209.4" r="0.5" fill="#f23645" fill-opacity="0.55"/>
<circle cx="1059.3" cy="209.4" r="2.2" fill="#22ab94" fill-opacity="0.55"/>
<circle cx="1060.8" cy="204.5" r="1.7" fill="#f23645" fill-opacity="0.55"/>
<circle cx="1060.8" cy="204.5" r="5.5" fill="#22ab94" fill-opacity="0.55"/>
<circle cx="1062.0" cy="205.0" r="0.6" fill="#f23645" fill-opacity="0.55"/>
<circle cx="1062.0" cy="205.0" r="3.4" fill="#22ab94" fill-opacity="0.55"/>
<circle cx="1062.1" cy="205.6" r="1.3" fill="#22ab94" fill-opacity="0.85"/>
<circle cx="1063.3" cy="198.6" r="1.3" fill="#f23645" fill-opacity="0.55"/>
<circle cx="1063.3" cy="198.6" r="3.0" fill="#22ab94" fill-opacity="0.55"/>
<circle cx="1064.1" cy="194.7" r="1.3" fill="#22ab94" fill-opacity="0.85"/>
<circle cx="1065.6" cy="192.5" r="1.0" fill="#f23645" fill-opacity="0.55"/>
<circle cx="1065.6" cy="192.5" r="3.4" fill="#22ab94" fill-opacity="0.55"/>
<circle cx="1066.4" cy="192.3" r="0.5" fill="#f23645" fill-opacity="0.55"/>
<circle cx="1066.4" cy="192.3" r="4.0" fill="#22ab94" fill-opacity="0.55"/>
<circle cx="1066.1" cy="193.6" r="1.1" fill="#f23645" fill-opacity="0.55"/>
<circle cx="1066.1" cy="193.6" r="4.6" fill="#22ab94" fill-opacity="0.55"/>
<circle cx="1070.2" cy="201.1" r="5.0" fill="#f23645" fill-opacity="0.55"/>
<circle cx="1070.2" cy="201.1" r="1.4" fill="#22ab94" fill-opacity="0.55"/>
<circle cx="1077.4" cy="200.7" r="0.4" fill="#f23645" fill-opacity="0.55"/>
<circle cx="1077.4" cy="200.7" r="2.2" fill="#22ab94" fill-opacity="0.55"/>
<circle cx="1078.1" cy="200.8" r="1.3" fill="#f23645" fill-opacity="0.85"/>
<circle cx="1080.7" cy="197.7" r="5.5" fill="#f23645" fill-opacity="0.55"/>
<circle cx="1080.7" cy="197.7" r="2.5" fill="#22ab94" fill-opacity="0.55"/>
<circle cx="1082.7" cy="196.0" r="0.7" fill="#f23645" fill-opacity="0.55"/>
<circle cx="1082.7" cy="196.0" r="3.0" fill="#22ab94" fill-opacity="0.55"/>
<circle cx="1081.9" cy="196.5" r="1.3" fill="#22ab94" fill-opacity="0.85"/>
<circle cx="1085.9" cy="188.5" r="0.6" fill="#f23645" fill-opacity="0.55"/>
<circle cx="1085.9" cy="188.5" r="5.5" fill="#22ab94" fill-opacity="0.55"/>
<circle cx="1086.1" cy="189.8" r="1.6" fill="#22ab94" fill-opacity="0.85"/>
<circle cx="1089.7" cy="188.7" r="1.5" fill="#f23645" fill-opacity="0.55"/>
<circle cx="1089.7" cy="188.7" r="5.5" fill="#22ab94" fill-opacity="0.55"/>
<circle cx="1089.9" cy="185.9" r="1.3" fill="#22ab94" fill-opacity="0.85"/>
<circle cx="1099.1" cy="252.2" r="1.6" fill="#f23645" fill-opacity="0.55"/>
<circle cx="1099.1" cy="252.2" r="5.0" fill="#22ab94" fill-opacity="0.55"/>
<circle cx="1103.2" cy="249.5" r="1.6" fill="#f23645" fill-opacity="0.55"/>
<circle cx="1103.2" cy="249.5" r="8.5" fill="#22ab94" fill-opacity="0.55"/>
<circle cx="1103.5" cy="252.4" r="1.3" fill="#22ab94" fill-opacity="0.85"/>
<circle cx="1109.3" cy="245.6" r="1.4" fill="#f23645" fill-opacity="0.55"/>
<circle cx="1109.3" cy="245.6" r="4.6" fill="#22ab94" fill-opacity="0.55"/>
<circle cx="1114.2" cy="243.0" r="2.6" fill="#f23645" fill-opacity="0.55"/>
<circle cx="1114.2" cy="243.0" r="6.5" fill="#22ab94" fill-opacity="0.55"/>
<circle cx="1114.8" cy="241.5" r="2.0" fill="#22ab94" fill-opacity="0.85"/>
<circle cx="1118.6" cy="242.9" r="1.5" fill="#f23645" fill-opacity="0.55"/>
<circle cx="1118.6" cy="242.9" r="4.6" fill="#22ab94" fill-opacity="0.55"/>
<circle cx="1120.3" cy="239.0" r="2.2" fill="#f23645" fill-opacity="0.55"/>
<circle cx="1120.3" cy="239.0" r="12.0" fill="#22ab94" fill-opacity="0.55"/>
<circle cx="1119.6" cy="242.8" r="2.0" fill="#22ab94" fill-opacity="0.85"/>
<circle cx="1122.9" cy="233.1" r="1.0" fill="#f23645" fill-opacity="0.55"/>
<circle cx="1122.9" cy="233.1" r="4.0" fill="#22ab94" fill-opacity="0.55"/>
<circle cx="1123.6" cy="231.9" r="1.6" fill="#22ab94" fill-opacity="0.85"/>
<circle cx="1126.0" cy="229.1" r="1.1" fill="#f23645" fill-opacity="0.55"/>
<circle cx="1126.0" cy="229.1" r="3.4" fill="#22ab94" fill-opacity="0.55"/>
<circle cx="1126.4" cy="225.8" r="2.0" fill="#22ab94" fill-opacity="0.85"/>
<circle cx="1129.8" cy="225.7" r="3.8" fill="#f23645" fill-opacity="0.55"/>
<circle cx="1129.8" cy="225.7" r="10.0" fill="#22ab94" fill-opacity="0.55"/>
<circle cx="1130.3" cy="224.7" r="1.6" fill="#22ab94" fill-opacity="0.85"/>
<circle cx="1131.4" cy="220.6" r="1.1" fill="#f23645" fill-opacity="0.55"/>
<circle cx="1131.4" cy="220.6" r="7.5" fill="#22ab94" fill-opacity="0.55"/>
<circle cx="1134.9" cy="219.2" r="0.7" fill="#f23645" fill-opacity="0.55"/>
<circle cx="1134.9" cy="219.2" r="3.0" fill="#22ab94" fill-opacity="0.55"/>
<circle cx="1136.8" cy="216.5" r="2.3" fill="#f23645" fill-opacity="0.55"/>
<circle cx="1136.8" cy="216.5" r="12.0" fill="#22ab94" fill-opacity="0.55"/>
<circle cx="1139.5" cy="212.0" r="1.6" fill="#f23645" fill-opacity="0.55"/>
<circle cx="1139.5" cy="212.0" r="4.6" fill="#22ab94" fill-opacity="0.55"/>
<circle cx="1141.0" cy="205.4" r="0.7" fill="#f23645" fill-opacity="0.55"/>
<circle cx="1141.0" cy="205.4" r="2.2" fill="#22ab94" fill-opacity="0.55"/>
<circle cx="1140.6" cy="201.9" r="2.0" fill="#22ab94" fill-opacity="0.85"/>
<circle cx="1142.0" cy="206.0" r="1.0" fill="#f23645" fill-opacity="0.55"/>
<circle cx="1142.0" cy="206.0" r="4.0" fill="#22ab94" fill-opacity="0.55"/>
<circle cx="1145.4" cy="200.0" r="1.2" fill="#f23645" fill-opacity="0.55"/>
<circle cx="1145.4" cy="200.0" r="3.4" fill="#22ab94" fill-opacity="0.55"/>
<circle cx="1145.8" cy="203.1" r="1.3" fill="#f23645" fill-opacity="0.85"/>
<circle cx="1146.2" cy="192.8" r="4.0" fill="#f23645" fill-opacity="0.55"/>
<circle cx="1146.2" cy="192.8" r="1.9" fill="#22ab94" fill-opacity="0.55"/>
<circle cx="1145.8" cy="193.7" r="1.6" fill="#22ab94" fill-opacity="0.85"/>
<circle cx="1146.1" cy="187.2" r="2.0" fill="#f23645" fill-opacity="0.55"/>
<circle cx="1146.1" cy="187.2" r="3.0" fill="#22ab94" fill-opacity="0.55"/>
<circle cx="1146.2" cy="188.3" r="1.6" fill="#f23645" fill-opacity="0.85"/>
<circle cx="1148.0" cy="188.3" r="4.6" fill="#f23645" fill-opacity="0.55"/>
<circle cx="1148.0" cy="188.3" r="1.7" fill="#22ab94" fill-opacity="0.55"/>
<circle cx="1150.2" cy="194.2" r="1.8" fill="#f23645" fill-opacity="0.55"/>
<circle cx="1150.2" cy="194.2" r="0.8" fill="#22ab94" fill-opacity="0.55"/>
<circle cx="1154.0" cy="196.9" r="1.5" fill="#f23645" fill-opacity="0.55"/>
<circle cx="1154.0" cy="196.9" r="4.0" fill="#22ab94" fill-opacity="0.55"/>
<circle cx="1153.9" cy="200.9" r="8.5" fill="#f23645" fill-opacity="0.55"/>
<circle cx="1153.9" cy="200.9" r="3.0" fill="#22ab94" fill-opacity="0.55"/>
<circle cx="1153.6" cy="204.5" r="2.4" fill="#f23645" fill-opacity="0.85"/>
<circle cx="1157.6" cy="205.2" r="7.5" fill="#f23645" fill-opacity="0.55"/>
<circle cx="1157.6" cy="205.2" r="2.7" fill="#22ab94" fill-opacity="0.55"/>
<circle cx="1159.2" cy="205.7" r="10.0" fill="#f23645" fill-opacity="0.55"/>
<circle cx="1159.2" cy="205.7" r="1.7" fill="#22ab94" fill-opacity="0.55"/>
<circle cx="1163.2" cy="204.9" r="1.9" fill="#f23645" fill-opacity="0.55"/>
<circle cx="1163.2" cy="204.9" r="5.5" fill="#22ab94" fill-opacity="0.55"/>
<circle cx="1167.3" cy="203.2" r="1.9" fill="#f23645" fill-opacity="0.55"/>
<circle cx="1167.3" cy="203.2" r="4.0" fill="#22ab94" fill-opacity="0.55"/>
<circle cx="1166.5" cy="204.9" r="2.4" fill="#22ab94" fill-opacity="0.85"/>
<circle cx="1171.6" cy="198.6" r="3.3" fill="#f23645" fill-opacity="0.55"/>
<circle cx="1171.6" cy="198.6" r="7.5" fill="#22ab94" fill-opacity="0.55"/>
<circle cx="1170.9" cy="199.1" r="2.0" fill="#f23645" fill-opacity="0.85"/>
<circle cx="1174.7" cy="193.9" r="7.5" fill="#f23645" fill-opacity="0.55"/>
<circle cx="1174.7" cy="193.9" r="2.8" fill="#22ab94" fill-opacity="0.55"/>
<circle cx="1178.7" cy="192.8" r="0.9" fill="#f23645" fill-opacity="0.55"/>
<circle cx="1178.7" cy="192.8" r="3.4" fill="#22ab94" fill-opacity="0.55"/>
<circle cx="1181.0" cy="187.6" r="1.7" fill="#f23645" fill-opacity="0.55"/>
<circle cx="1181.0" cy="187.6" r="3.4" fill="#22ab94" fill-opacity="0.55"/>
<circle cx="1181.0" cy="186.5" r="1.6" fill="#22ab94" fill-opacity="0.85"/>
<circle cx="1182.6" cy="183.9" r="5.0" fill="#f23645" fill-opacity="0.55"/>
<circle cx="1182.6" cy="183.9" r="0.8" fill="#22ab94" fill-opacity="0.55"/>
<circle cx="1186.0" cy="177.4" r="2.4" fill="#f23645" fill-opacity="0.55"/>
<circle cx="1186.0" cy="177.4" r="4.6" fill="#22ab94" fill-opacity="0.55"/>
<circle cx="1185.8" cy="174.7" r="5.0" fill="#f23645" fill-opacity="0.55"/>
<circle cx="1185.8" cy="174.7" r="6.5" fill="#22ab94" fill-opacity="0.55"/>
<circle cx="1186.1" cy="171.0" r="4.7" fill="#f23645" fill-opacity="0.55"/>
<circle cx="1186.1" cy="171.0" r="10.0" fill="#22ab94" fill-opacity="0.55"/>
<circle cx="1187.0" cy="171.2" r="1.6" fill="#22ab94" fill-opacity="0.85"/>
<circle cx="1187.7" cy="168.0" r="1.6" fill="#f23645" fill-opacity="0.55"/>
<circle cx="1187.7" cy="168.0" r="4.6" fill="#22ab94" fill-opacity="0.55"/>
<circle cx="1187.5" cy="164.4" r="4.7" fill="#f23645" fill-opacity="0.55"/>
<circle cx="1187.5" cy="164.4" r="12.0" fill="#22ab94" fill-opacity="0.55"/>
<circle cx="1188.1" cy="167.8" r="2.4" fill="#22ab94" fill-opacity="0.85"/>
<circle cx="1189.6" cy="158.5" r="2.1" fill="#f23645" fill-opacity="0.55"/>
<circle cx="1189.6" cy="158.5" r="2.6" fill="#22ab94" fill-opacity="0.55"/>
<circle cx="1188.2" cy="153.7" r="5.9" fill="#f23645" fill-opacity="0.55"/>
<circle cx="1188.2" cy="153.7" r="7.5" fill="#22ab94" fill-opacity="0.55"/>
<circle cx="1188.1" cy="151.2" r="2.0" fill="#22ab94" fill-opacity="0.85"/>
<circle cx="1190.2" cy="154.2" r="4.6" fill="#f23645" fill-opacity="0.55"/>
<circle cx="1190.2" cy="154.2" r="0.8" fill="#22ab94" fill-opacity="0.55"/>
<circle cx="1190.6" cy="157.3" r="1.3" fill="#22ab94" fill-opacity="0.85"/>
<circle cx="1190.5" cy="148.7" r="2.6" fill="#f23645" fill-opacity="0.55"/>
<circle cx="1190.5" cy="148.7" r="0.7" fill="#22ab94" fill-opacity="0.55"/>
<circle cx="1190.8" cy="149.3" r="2.4" fill="#f23645" fill-opacity="0.85"/>
<circle cx="1190.2" cy="144.7" r="7.5" fill="#f23645" fill-opacity="0.55"/>
<circle cx="1190.2" cy="144.7" r="3.4" fill="#22ab94" fill-opacity="0.55"/>
<circle cx="1191.4" cy="172.4" r="3.2" fill="#f23645" fill-opacity="0.55"/>
<circle cx="1191.4" cy="172.4" r="7.5" fill="#22ab94" fill-opacity="0.55"/>
<circle cx="1194.9" cy="174.0" r="1.1" fill="#f23645" fill-opacity="0.55"/>
<circle cx="1194.9" cy="174.0" r="2.6" fill="#22ab94" fill-opacity="0.55"/>
<circle cx="1193.9" cy="171.5" r="2.4" fill="#f23645" fill-opacity="0.85"/>
<circle cx="1208.1" cy="165.0" r="2.1" fill="#f23645" fill-opacity="0.55"/>
<circle cx="1208.1" cy="165.0" r="4.6" fill="#22ab94" fill-opacity="0.55"/>
<circle cx="1207.7" cy="162.8" r="1.6" fill="#22ab94" fill-opacity="0.85"/>
<circle cx="1215.1" cy="165.4" r="0.8" fill="#f23645" fill-opacity="0.55"/>
<circle cx="1215.1" cy="165.4" r="2.2" fill="#22ab94" fill-opacity="0.55"/>
<circle cx="1215.3" cy="176.5" r="8.5" fill="#f23645" fill-opacity="0.55"/>
<circle cx="1215.3" cy="176.5" r="1.4" fill="#22ab94" fill-opacity="0.55"/>
<circle cx="1217.5" cy="185.3" r="1.6" fill="#f23645" fill-opacity="0.55"/>
<circle cx="1217.5" cy="185.3" r="5.0" fill="#22ab94" fill-opacity="0.55"/>
<circle cx="1224.2" cy="189.4" r="4.5" fill="#f23645" fill-opacity="0.55"/>
<circle cx="1224.2" cy="189.4" r="8.5" fill="#22ab94" fill-opacity="0.55"/>
<circle cx="1224.8" cy="179.0" r="3.4" fill="#f23645" fill-opacity="0.55"/>
<circle cx="1224.8" cy="179.0" r="5.0" fill="#22ab94" fill-opacity="0.55"/>
<circle cx="1223.9" cy="176.9" r="2.0" fill="#f23645" fill-opacity="0.85"/>
<circle cx="1225.9" cy="173.2" r="1.4" fill="#f23645" fill-opacity="0.55"/>
<circle cx="1225.9" cy="173.2" r="2.2" fill="#22ab94" fill-opacity="0.55"/>
<circle cx="1227.6" cy="158.5" r="6.2" fill="#f23645" fill-opacity="0.55"/>
<circle cx="1227.6" cy="158.5" r="8.5" fill="#22ab94" fill-opacity="0.55"/>
<circle cx="1227.3" cy="160.7" r="1.3" fill="#f23645" fill-opacity="0.85"/>
<circle cx="1227.6" cy="147.0" r="4.0" fill="#f23645" fill-opacity="0.55"/>
<circle cx="1227.6" cy="147.0" r="1.6" fill="#22ab94" fill-opacity="0.55"/>
<circle cx="1226.8" cy="147.4" r="1.3" fill="#f23645" fill-opacity="0.85"/>
<circle cx="1230.1" cy="141.4" r="4.2" fill="#f23645" fill-opacity="0.55"/>
<circle cx="1230.1" cy="141.4" r="8.5" fill="#22ab94" fill-opacity="0.55"/>
<circle cx="1229.8" cy="127.7" r="3.9" fill="#f23645" fill-opacity="0.55"/>
<circle cx="1229.8" cy="127.7" r="10.0" fill="#22ab94" fill-opacity="0.55"/>
<circle cx="1230.5" cy="129.1" r="1.6" fill="#f23645" fill-opacity="0.85"/>
<circle cx="1232.4" cy="130.0" r="3.4" fill="#f23645" fill-opacity="0.55"/>
<circle cx="1232.4" cy="130.0" r="1.6" fill="#22ab94" fill-opacity="0.55"/>
<circle cx="1231.7" cy="130.0" r="1.3" fill="#22ab94" fill-opacity="0.85"/>
<circle cx="1236.7" cy="137.2" r="7.5" fill="#f23645" fill-opacity="0.55"/>
<circle cx="1236.7" cy="137.2" r="2.6" fill="#22ab94" fill-opacity="0.55"/>
<circle cx="1245.4" cy="137.9" r="3.5" fill="#f23645" fill-opacity="0.55"/>
<circle cx="1245.4" cy="137.9" r="6.5" fill="#22ab94" fill-opacity="0.55"/>
<circle cx="1245.0" cy="135.0" r="1.3" fill="#f23645" fill-opacity="0.85"/>
<circle cx="1249.8" cy="136.4" r="5.0" fill="#f23645" fill-opacity="0.55"/>
<circle cx="1249.8" cy="136.4" r="1.3" fill="#22ab94" fill-opacity="0.55"/>
<circle cx="1250.0" cy="135.1" r="1.3" fill="#22ab94" fill-opacity="0.85"/>
<circle cx="1254.3" cy="146.3" r="8.5" fill="#f23645" fill-opacity="0.55"/>
<circle cx="1254.3" cy="146.3" r="3.2" fill="#22ab94" fill-opacity="0.55"/>
<circle cx="1254.3" cy="144.4" r="1.6" fill="#22ab94" fill-opacity="0.85"/>
<circle cx="1260.0" cy="154.5" r="12.0" fill="#f23645" fill-opacity="0.55"/>
<circle cx="1260.0" cy="154.5" r="2.3" fill="#22ab94" fill-opacity="0.55"/>
<circle cx="1091.7" cy="190.0" r="2.5" fill="#22ab94" fill-opacity="0.8"/>
<circle cx="1091.7" cy="200.0" r="3.0" fill="#22ab94" fill-opacity="0.8"/>
<circle cx="1091.7" cy="212.0" r="4.5" fill="#f23645" fill-opacity="0.8"/>
<circle cx="1091.7" cy="222.0" r="3.0" fill="#f23645" fill-opacity="0.8"/>
<circle cx="1091.7" cy="232.0" r="3.0" fill="#22ab94" fill-opacity="0.8"/>
<circle cx="1091.7" cy="243.0" r="2.2" fill="#f23645" fill-opacity="0.8"/>
<circle cx="1091.7" cy="265.5" r="2.6" fill="#f23645" fill-opacity="0.8"/>
<circle cx="1091.7" cy="276.5" r="2.4" fill="#f23645" fill-opacity="0.8"/>
<circle cx="580.8" cy="260.0" r="10.0" fill="#22ab94" fill-opacity="0.45"/>
<circle cx="599.5" cy="270.0" r="12.0" fill="#22ab94" fill-opacity="0.45"/>
<circle cx="846.0" cy="278.0" r="10.0" fill="#f23645" fill-opacity="0.55"/>
<circle cx="861.0" cy="270.0" r="12.0" fill="#22ab94" fill-opacity="0.55"/>
<circle cx="861.0" cy="270.0" r="11.0" fill="#22ab94" fill-opacity="0.6"/>
<circle cx="1239.7" cy="142.5" r="6.2" fill="#22ab94" fill-opacity="0.8"/>
<circle cx="1231.9" cy="123.8" r="8.6" fill="#f23645" fill-opacity="0.55"/>
<circle cx="1231.9" cy="123.8" r="8.6" fill="#22ab94" fill-opacity="0.55"/>
<circle cx="1231.9" cy="127.0" r="4.4" fill="#22ab94" fill-opacity="0.8"/>
<circle cx="1240.5" cy="130.0" r="5.5" fill="#f23645" fill-opacity="0.8"/>
<circle cx="1240.5" cy="130.0" r="2.0" fill="#22ab94" fill-opacity="0.9"/>
<circle cx="1249.0" cy="127.7" r="4.7" fill="#f23645" fill-opacity="0.55"/>
<circle cx="1249.0" cy="127.7" r="4.7" fill="#22ab94" fill-opacity="0.55"/>
<circle cx="1256.9" cy="127.7" r="3.4" fill="#f23645" fill-opacity="0.55"/>
<circle cx="1256.9" cy="127.7" r="3.4" fill="#22ab94" fill-opacity="0.55"/>
<circle cx="1256.9" cy="135.5" r="3.1" fill="#f23645" fill-opacity="0.55"/>
<circle cx="1256.9" cy="135.5" r="3.1" fill="#22ab94" fill-opacity="0.55"/>
<circle cx="1249.0" cy="146.4" r="4.7" fill="#f23645" fill-opacity="0.8"/>
<circle cx="1191.2" cy="145.6" r="7.0" fill="#22ab94" fill-opacity="0.8"/>
<circle cx="1190.5" cy="132.3" r="6.0" fill="#f23645" fill-opacity="0.55"/>
<circle cx="1190.5" cy="132.3" r="6.0" fill="#22ab94" fill-opacity="0.55"/>
<circle cx="1190.5" cy="132.3" r="2.5" fill="#f23645" fill-opacity="0.9"/>
<circle cx="1199.0" cy="135.5" r="6.5" fill="#22ab94" fill-opacity="0.55"/>
<circle cx="1199.0" cy="135.5" r="3.0" fill="#f23645" fill-opacity="0.9"/>
<circle cx="1190.5" cy="159.0" r="4.7" fill="#22ab94" fill-opacity="0.8"/>
<circle cx="1190.5" cy="177.7" r="7.0" fill="#f23645" fill-opacity="0.55"/>
<circle cx="1190.5" cy="177.7" r="7.0" fill="#22ab94" fill-opacity="0.55"/>
<circle cx="1215.5" cy="161.2" r="6.2" fill="#22ab94" fill-opacity="0.8"/>
<circle cx="1206.9" cy="170.6" r="4.7" fill="#f23645" fill-opacity="0.55"/>
<circle cx="1206.9" cy="170.6" r="4.7" fill="#22ab94" fill-opacity="0.55"/>
<circle cx="1215.5" cy="183.0" r="5.5" fill="#f23645" fill-opacity="0.55"/>
<circle cx="1215.5" cy="183.0" r="5.5" fill="#22ab94" fill-opacity="0.55"/>
<circle cx="1215.5" cy="183.0" r="3.5" fill="#22ab94" fill-opacity="0.9"/>
<circle cx="1224.0" cy="173.8" r="4.0" fill="#22ab94" fill-opacity="0.8"/>
<circle cx="1224.0" cy="189.4" r="4.0" fill="#f23645" fill-opacity="0.8"/>
<circle cx="1231.9" cy="159.7" r="4.4" fill="#22ab94" fill-opacity="0.55"/>
<circle cx="1231.9" cy="159.7" r="2.2" fill="#f23645" fill-opacity="0.9"/>
<circle cx="1256.9" cy="158.0" r="4.7" fill="#22ab94" fill-opacity="0.8"/>
<circle cx="1174.0" cy="192.5" r="4.7" fill="#f23645" fill-opacity="0.8"/>
<circle cx="1174.0" cy="192.5" r="2.0" fill="#22ab94" fill-opacity="0.9"/>
<circle cx="1182.0" cy="168.0" r="3.5" fill="#f23645" fill-opacity="0.55"/>
<circle cx="1182.0" cy="168.0" r="3.5" fill="#22ab94" fill-opacity="0.55"/>
<circle cx="1182.0" cy="176.0" r="3.0" fill="#f23645" fill-opacity="0.55"/>
<circle cx="1182.0" cy="176.0" r="3.0" fill="#22ab94" fill-opacity="0.55"/>
<circle cx="1182.0" cy="184.0" r="3.0" fill="#f23645" fill-opacity="0.55"/>
<circle cx="1182.0" cy="184.0" r="3.0" fill="#22ab94" fill-opacity="0.55"/>
<circle cx="1199.0" cy="162.0" r="3.5" fill="#f23645" fill-opacity="0.55"/>
<circle cx="1199.0" cy="162.0" r="3.5" fill="#22ab94" fill-opacity="0.55"/>
<circle cx="1224.0" cy="162.0" r="3.5" fill="#f23645" fill-opacity="0.55"/>
<circle cx="1224.0" cy="162.0" r="3.5" fill="#22ab94" fill-opacity="0.55"/>
<circle cx="1248.0" cy="158.0" r="4.0" fill="#f23645" fill-opacity="0.55"/>
<circle cx="1248.0" cy="158.0" r="4.0" fill="#22ab94" fill-opacity="0.55"/>
<circle cx="1245.0" cy="165.0" r="4.0" fill="#22ab94" fill-opacity="0.55"/>
<circle cx="1232.0" cy="146.0" r="5.0" fill="#f23645" fill-opacity="0.7"/>
<circle cx="1158.0" cy="205.7" r="12.0" fill="#f23645" fill-opacity="0.55"/>
<circle cx="1141.0" cy="209.0" r="7.5" fill="#f23645" fill-opacity="0.55"/>
<circle cx="1148.0" cy="187.0" r="8.5" fill="#f23645" fill-opacity="0.55"/>
<circle cx="109.0" cy="535.0" r="11.0" fill="#22ab94" fill-opacity="0.55"/>
<circle cx="136.0" cy="549.0" r="9.0" fill="#f23645" fill-opacity="0.55"/>
<circle cx="136.0" cy="549.0" r="6.0" fill="#22ab94" fill-opacity="0.55"/>
<circle cx="150.0" cy="552.5" r="6.0" fill="#f23645" fill-opacity="0.55"/>
<circle cx="242.0" cy="516.5" r="12.0" fill="#22ab94" fill-opacity="0.55"/>
<circle cx="250.0" cy="523.0" r="10.0" fill="#f23645" fill-opacity="0.55"/>
<circle cx="265.6" cy="499.0" r="9.0" fill="#22ab94" fill-opacity="0.55"/>
<circle cx="300.0" cy="505.6" r="8.0" fill="#22ab94" fill-opacity="0.55"/>
<circle cx="307.8" cy="493.0" r="11.5" fill="#f23645" fill-opacity="0.55"/>
<circle cx="312.0" cy="490.0" r="9.0" fill="#22ab94" fill-opacity="0.55"/>
<circle cx="761.4" cy="308.8" r="9.6" fill="#f23645" fill-opacity="0.55"/>
<circle cx="794.4" cy="334.4" r="9.6" fill="#f23645" fill-opacity="0.55"/>
<circle cx="803.9" cy="336.7" r="10.2" fill="#22ab94" fill-opacity="0.55"/>
<circle cx="810.4" cy="312.0" r="10.6" fill="#22ab94" fill-opacity="0.55"/>
<circle cx="778.3" cy="320.0" r="6.4" fill="#f23645" fill-opacity="0.8"/>
<circle cx="786.6" cy="325.0" r="9.6" fill="#f23645" fill-opacity="0.8"/>
<circle cx="795.0" cy="326.5" r="7.7" fill="#f23645" fill-opacity="0.8"/>
<circle cx="795.0" cy="336.7" r="7.0" fill="#f23645" fill-opacity="0.8"/>
<circle cx="783.5" cy="331.6" r="6.4" fill="#f23645" fill-opacity="0.8"/>
<circle cx="802.6" cy="326.5" r="4.5" fill="#22ab94" fill-opacity="0.8"/>
<circle cx="790.0" cy="327.0" r="2.5" fill="#f23645" fill-opacity="0.55"/>
<circle cx="790.0" cy="327.0" r="2.5" fill="#22ab94" fill-opacity="0.55"/>
<circle cx="796.0" cy="331.0" r="2.5" fill="#f23645" fill-opacity="0.55"/>
<circle cx="796.0" cy="331.0" r="2.5" fill="#22ab94" fill-opacity="0.55"/>
<circle cx="753.4" cy="283.6" r="6.4" fill="#f23645" fill-opacity="0.8"/>
<circle cx="753.4" cy="283.6" r="2.5" fill="#f23645" fill-opacity="0.55"/>
<circle cx="753.4" cy="283.6" r="2.5" fill="#22ab94" fill-opacity="0.55"/>
<circle cx="761.7" cy="293.9" r="4.5" fill="#f23645" fill-opacity="0.8"/>
<circle cx="761.0" cy="307.3" r="7.7" fill="#f23645" fill-opacity="0.8"/>
<circle cx="745.0" cy="306.7" r="7.7" fill="#f23645" fill-opacity="0.8"/>
<circle cx="770.7" cy="304.0" r="4.5" fill="#f23645" fill-opacity="0.8"/>
<circle cx="770.7" cy="304.0" r="2.2" fill="#f23645" fill-opacity="0.55"/>
<circle cx="770.7" cy="304.0" r="2.2" fill="#22ab94" fill-opacity="0.55"/>
<circle cx="757.0" cy="298.0" r="5.0" fill="#22ab94" fill-opacity="0.55"/>
<circle cx="745.0" cy="306.0" r="2.5" fill="#f23645" fill-opacity="0.55"/>
<circle cx="745.0" cy="306.0" r="2.5" fill="#22ab94" fill-opacity="0.55"/>
<circle cx="752.0" cy="312.0" r="5.0" fill="#f23645" fill-opacity="0.7"/>
<circle cx="768.0" cy="312.0" r="5.0" fill="#f23645" fill-opacity="0.7"/>
<circle cx="820.0" cy="303.5" r="10.0" fill="#f23645" fill-opacity="0.55"/>
<circle cx="835.8" cy="303.5" r="9.0" fill="#f23645" fill-opacity="0.7"/>
<circle cx="844.2" cy="324.0" r="6.4" fill="#22ab94" fill-opacity="0.55"/>
<circle cx="844.2" cy="324.0" r="2.5" fill="#f23645" fill-opacity="0.55"/>
<circle cx="844.2" cy="324.0" r="2.5" fill="#22ab94" fill-opacity="0.55"/>
<circle cx="811.0" cy="294.5" r="3.8" fill="#f23645" fill-opacity="0.8"/>
<circle cx="820.0" cy="301.5" r="5.0" fill="#f23645" fill-opacity="0.55"/>
<circle cx="820.0" cy="301.5" r="5.0" fill="#22ab94" fill-opacity="0.55"/>
<circle cx="820.0" cy="310.0" r="7.0" fill="#f23645" fill-opacity="0.55"/>
<circle cx="820.0" cy="310.0" r="5.5" fill="#22ab94" fill-opacity="0.55"/>
<circle cx="844.2" cy="313.7" r="5.0" fill="#f23645" fill-opacity="0.8"/>
<circle cx="835.8" cy="315.0" r="4.5" fill="#22ab94" fill-opacity="0.8"/>
<circle cx="828.2" cy="294.5" r="3.2" fill="#22ab94" fill-opacity="0.8"/>
<circle cx="844.0" cy="308.0" r="3.0" fill="#f23645" fill-opacity="0.55"/>
<circle cx="844.0" cy="308.0" r="3.0" fill="#22ab94" fill-opacity="0.55"/>
<circle cx="828.0" cy="306.0" r="5.0" fill="#f23645" fill-opacity="0.7"/>
<circle cx="857.0" cy="287.5" r="8.3" fill="#f23645" fill-opacity="0.8"/>
<circle cx="852.5" cy="285.0" r="2.2" fill="#f23645" fill-opacity="0.55"/>
<circle cx="852.5" cy="285.0" r="2.2" fill="#22ab94" fill-opacity="0.55"/>
<circle cx="860.8" cy="285.0" r="2.2" fill="#f23645" fill-opacity="0.55"/>
<circle cx="860.8" cy="285.0" r="2.2" fill="#22ab94" fill-opacity="0.55"/>
<circle cx="852.5" cy="309.0" r="3.8" fill="#f23645" fill-opacity="0.8"/>
<circle cx="877.4" cy="298.3" r="8.3" fill="#f23645" fill-opacity="0.55"/>
<circle cx="877.4" cy="295.5" r="2.5" fill="#f23645" fill-opacity="0.55"/>
<circle cx="877.4" cy="295.5" r="2.5" fill="#22ab94" fill-opacity="0.55"/>
<circle cx="877.4" cy="301.5" r="2.5" fill="#f23645" fill-opacity="0.55"/>
<circle cx="877.4" cy="301.5" r="2.5" fill="#22ab94" fill-opacity="0.55"/>
<circle cx="868.0" cy="290.0" r="3.5" fill="#22ab94" fill-opacity="0.8"/>
<circle cx="886.0" cy="293.0" r="4.0" fill="#22ab94" fill-opacity="0.7"/>
<circle cx="620.7" cy="334.4" r="11.7" fill="#f23645" fill-opacity="0.55"/>
<circle cx="621.8" cy="345.0" r="8.5" fill="#f23645" fill-opacity="0.55"/>
<circle cx="611.0" cy="338.7" r="6.4" fill="#22ab94" fill-opacity="0.55"/>
<circle cx="636.5" cy="301.0" r="12.0" fill="#f23645" fill-opacity="0.55"/>
<circle cx="636.5" cy="301.0" r="12.0" fill="#22ab94" fill-opacity="0.55"/>
<circle cx="596.8" cy="284.5" r="2.2" fill="#f23645" fill-opacity="0.55"/>
<circle cx="596.8" cy="284.5" r="2.2" fill="#22ab94" fill-opacity="0.55"/>
<circle cx="572.0" cy="292.8" r="2.5" fill="#f23645" fill-opacity="0.55"/>
<circle cx="572.0" cy="292.8" r="2.5" fill="#22ab94" fill-opacity="0.55"/>
<circle cx="605.1" cy="309.4" r="4.5" fill="#f23645" fill-opacity="0.55"/>
<circle cx="605.1" cy="309.4" r="4.5" fill="#22ab94" fill-opacity="0.55"/>
<circle cx="596.8" cy="321.0" r="4.5" fill="#f23645" fill-opacity="0.55"/>
<circle cx="596.8" cy="321.0" r="4.5" fill="#22ab94" fill-opacity="0.55"/>
<circle cx="596.8" cy="321.0" r="6.5" fill="#f23645" fill-opacity="0.7"/>
<circle cx="596.8" cy="312.6" r="2.0" fill="#f23645" fill-opacity="0.55"/>
<circle cx="596.8" cy="312.6" r="2.0" fill="#22ab94" fill-opacity="0.55"/>
<circle cx="613.5" cy="317.7" r="2.3" fill="#f23645" fill-opacity="0.55"/>
<circle cx="613.5" cy="317.7" r="2.3" fill="#22ab94" fill-opacity="0.55"/>
<circle cx="630.0" cy="320.3" r="4.5" fill="#22ab94" fill-opacity="0.8"/>
<circle cx="621.8" cy="335.6" r="4.5" fill="#22ab94" fill-opacity="0.8"/>
<circle cx="621.8" cy="336.5" r="2.2" fill="#f23645" fill-opacity="0.9"/>
<circle cx="637.7" cy="294.7" r="4.5" fill="#22ab94" fill-opacity="0.7"/>
<circle cx="630.0" cy="300.0" r="4.0" fill="#22ab94" fill-opacity="0.7"/>
<circle cx="639.0" cy="310.0" r="4.5" fill="#22ab94" fill-opacity="0.7"/>
<circle cx="630.0" cy="320.0" r="3.5" fill="#22ab94" fill-opacity="0.7"/>
<circle cx="646.7" cy="288.0" r="4.5" fill="#22ab94" fill-opacity="0.7"/>
<circle cx="571.7" cy="276.9" r="6.8" fill="#22ab94" fill-opacity="0.55"/>
<circle cx="738.0" cy="298.0" r="6.4" fill="#22ab94" fill-opacity="0.55"/>
<circle cx="712.3" cy="259.9" r="4.5" fill="#f23645" fill-opacity="0.55"/>
<circle cx="712.0" cy="275.0" r="8.5" fill="#22ab94" fill-opacity="0.55"/>
<circle cx="712.3" cy="214.5" r="2.2" fill="#22ab94" fill-opacity="0.8"/>
<circle cx="712.3" cy="221.0" r="2.2" fill="#22ab94" fill-opacity="0.8"/>
<circle cx="712.3" cy="237.4" r="2.2" fill="#22ab94" fill-opacity="0.8"/>
<circle cx="712.3" cy="245.8" r="2.2" fill="#22ab94" fill-opacity="0.8"/>
<circle cx="696.0" cy="226.5" r="2.0" fill="#f23645" fill-opacity="0.9"/>
<circle cx="464.9" cy="369.8" r="9.6" fill="#22ab94" fill-opacity="0.55"/>
<circle cx="464.9" cy="371.0" r="5.0" fill="#f23645" fill-opacity="0.55"/>
<circle cx="464.9" cy="385.8" r="6.8" fill="#f23645" fill-opacity="0.55"/>
<circle cx="456.8" cy="396.4" r="8.5" fill="#f23645" fill-opacity="0.55"/>
<circle cx="456.8" cy="396.4" r="8.5" fill="#22ab94" fill-opacity="0.55"/>
<circle cx="472.7" cy="348.0" r="4.7" fill="#f23645" fill-opacity="0.55"/>
<circle cx="448.0" cy="434.8" r="9.6" fill="#f23645" fill-opacity="0.55"/>
<circle cx="448.0" cy="434.8" r="9.6" fill="#22ab94" fill-opacity="0.55"/>
<circle cx="448.0" cy="417.7" r="4.7" fill="#f23645" fill-opacity="0.55"/>
<circle cx="456.8" cy="411.4" r="2.2" fill="#22ab94" fill-opacity="0.9"/>
<circle cx="456.8" cy="423.0" r="2.2" fill="#22ab94" fill-opacity="0.9"/>
<circle cx="431.7" cy="412.4" r="5.0" fill="#f23645" fill-opacity="0.55"/>
<circle cx="431.7" cy="412.4" r="2.5" fill="#22ab94" fill-opacity="0.9"/>
<circle cx="431.7" cy="423.0" r="3.0" fill="#22ab94" fill-opacity="0.8"/>
<circle cx="423.8" cy="398.6" r="2.2" fill="#f23645" fill-opacity="0.9"/>
<circle cx="423.8" cy="413.5" r="2.5" fill="#f23645" fill-opacity="0.9"/>
<circle cx="423.8" cy="422.0" r="2.5" fill="#f23645" fill-opacity="0.9"/>
<circle cx="415.0" cy="434.0" r="9.0" fill="#22ab94" fill-opacity="0.55"/>
<circle cx="415.0" cy="433.7" r="4.3" fill="#f23645" fill-opacity="0.55"/>
<circle cx="415.0" cy="448.0" r="8.0" fill="#f23645" fill-opacity="0.55"/>
<circle cx="415.0" cy="448.0" r="8.0" fill="#22ab94" fill-opacity="0.55"/>
<circle cx="406.7" cy="422.0" r="4.7" fill="#f23645" fill-opacity="0.8"/>
<circle cx="398.0" cy="436.0" r="8.5" fill="#f23645" fill-opacity="0.8"/>
<circle cx="396.0" cy="433.0" r="5.0" fill="#f23645" fill-opacity="0.8"/>
<circle cx="390.8" cy="411.0" r="8.0" fill="#22ab94" fill-opacity="0.55"/>
<circle cx="390.8" cy="411.0" r="3.5" fill="#f23645" fill-opacity="0.9"/>
<circle cx="390.8" cy="421.0" r="5.0" fill="#f23645" fill-opacity="0.55"/>
<circle cx="382.0" cy="445.0" r="9.0" fill="#22ab94" fill-opacity="0.55"/>
<circle cx="382.0" cy="445.0" r="4.5" fill="#f23645" fill-opacity="0.9"/>
<circle cx="382.0" cy="461.0" r="2.5" fill="#f23645" fill-opacity="0.9"/>
<circle cx="349.0" cy="452.0" r="10.0" fill="#22ab94" fill-opacity="0.55"/>
<circle cx="357.7" cy="469.0" r="2.8" fill="#f23645" fill-opacity="0.9"/>
<circle cx="357.7" cy="459.0" r="5.0" fill="#f23645" fill-opacity="0.55"/>
<circle cx="349.0" cy="452.0" r="2.5" fill="#f23645" fill-opacity="0.9"/>
<circle cx="340.7" cy="432.6" r="2.5" fill="#f23645" fill-opacity="0.9"/>
<circle cx="316.0" cy="420.0" r="9.6" fill="#f23645" fill-opacity="0.8"/>
<circle cx="316.0" cy="451.0" r="6.4" fill="#f23645" fill-opacity="0.8"/>
<circle cx="316.0" cy="391.0" r="6.0" fill="#22ab94" fill-opacity="0.55"/>
<circle cx="316.0" cy="372.0" r="7.0" fill="#22ab94" fill-opacity="0.55"/>
<circle cx="330.0" cy="419.0" r="4.0" fill="#f23645" fill-opacity="0.9"/>
<circle cx="333.0" cy="415.0" r="2.2" fill="#22ab94" fill-opacity="0.9"/>
<circle cx="341.0" cy="423.0" r="3.0" fill="#f23645" fill-opacity="0.9"/>
</g>
<line x1="0" y1="155.4" x2="1338.75" y2="155.4" stroke="#f3305a" stroke-width="1.45" stroke-dasharray="6.5,4.3"/>
<rect x="1338.15" y="77" width="1.2" height="560.6" fill="#dcdee1"/>
<rect x="0" y="636.9" width="1338.75" height="1.2" fill="#dcdee1"/>
<rect x="35.0" y="637" width="1.5" height="5.5" fill="#dcdee1"/>
<rect x="282.75" y="637" width="1.5" height="5.5" fill="#dcdee1"/>
<rect x="529.75" y="637" width="1.5" height="5.5" fill="#dcdee1"/>
<rect x="777.5" y="637" width="1.5" height="5.5" fill="#dcdee1"/>
<rect x="1025.0" y="637" width="1.5" height="5.5" fill="#dcdee1"/>
<g font-family="Liberation Serif, serif" font-size="16.5" fill="#707a8a">
<text x="1348.9" y="115.8" textLength="46.3" lengthAdjust="spacingAndGlyphs">3.0800</text>
<text x="1348.9" y="179.0" textLength="46.3" lengthAdjust="spacingAndGlyphs">3.0400</text>
<text x="1348.9" y="242.5" textLength="46.3" lengthAdjust="spacingAndGlyphs">3.0000</text>
<text x="1348.9" y="305.9" textLength="46.3" lengthAdjust="spacingAndGlyphs">2.9600</text>
<text x="1348.9" y="368.8" textLength="46.3" lengthAdjust="spacingAndGlyphs">2.9200</text>
<text x="1348.9" y="432.0" textLength="46.3" lengthAdjust="spacingAndGlyphs">2.8800</text>
<text x="1348.9" y="494.3" textLength="46.3" lengthAdjust="spacingAndGlyphs">2.8400</text>
<text x="1348.9" y="557.5" textLength="46.3" lengthAdjust="spacingAndGlyphs">2.8000</text>
<text x="1348.9" y="620.8" textLength="46.3" lengthAdjust="spacingAndGlyphs">2.7600</text>
<text x="36.0" y="660.3" text-anchor="middle" textLength="39" lengthAdjust="spacingAndGlyphs">09-06</text>
<text x="283.8" y="660.3" text-anchor="middle" textLength="39" lengthAdjust="spacingAndGlyphs">09-07</text>
<text x="530.8" y="660.3" text-anchor="middle" textLength="39" lengthAdjust="spacingAndGlyphs">09-08</text>
<text x="778.5" y="660.3" text-anchor="middle" textLength="39" lengthAdjust="spacingAndGlyphs">09-10</text>
<text x="1026.0" y="660.3" text-anchor="middle" textLength="39" lengthAdjust="spacingAndGlyphs">09-11</text>
</g>
<rect x="1338.3" y="141.9" width="55.9" height="26" rx="1.5" fill="#f6265a"/>
<rect x="1338.3" y="167.5" width="47.700" height="26.1" rx="1.5" fill="#f6265a"/>
<g font-family="Liberation Serif, serif" font-size="16.5" fill="#ffffff"><text x="1342.9" y="159.9" textLength="46.6" lengthAdjust="spacingAndGlyphs">3.0523</text><text x="1343.3" y="184.7" textLength="38.6" lengthAdjust="spacingAndGlyphs">52:04</text></g>
</svg>
<div class="sel" style="left:559px;width:342px"><span class="t" style="left:10.2px;transform:scaleX(.977)">Binance XRP/USDT Perpetual</span>
<svg style="position:absolute;left:317.3px;top:19.6px" width="9" height="5" viewBox="0 0 9 5"><path d="M0.2 0.1h8.6L4.5 4.9z" fill="#4b5563"/></svg></div>
<div class="sel" style="left:914px;width:101px"><span class="t" style="left:11.2px;transform:scaleX(.988)">1 hour</span>
<svg style="position:absolute;left:74.5px;top:10.6px" width="12" height="22" viewBox="0 0 12 22"><path d="M2.100 6.9L6 3l3.900 3.900M2.100 15.100L6 19l3.900-3.900" fill="none" stroke="#505a67" stroke-width="1.800" stroke-linecap="round" stroke-linejoin="round"/></svg></div>
<div class="btn" style="left:1027.7px;width:42.6px">
<svg style="position:absolute;left:6.6px;top:6px" width="28.6" height="28.6" viewBox="0 0 24 24"><path fill="#2b2f36" d="M19.43 12.98c.04-.32.07-.64.07-.98 0-.34-.03-.66-.07-.98l2.110-1.650c.19-.15.24-.42.12-.64l-2-3.460a.5.5 0 0 0-.61-.22l-2.490 1c-.52-.4-1.080-.73-1.690-.98l-.38-2.650A.488.488 0 0 0 14 2h-4c-.25 0-.46.18-.49.42l-.38 2.650c-.61.25-1.170.59-1.690.98l-2.490-1a.566.566 0 0 0-.18-.03c-.17 0-.34.09-.43.25l-2 3.460c-.13.22-.07.49.12.64l2.110 1.650c-.04.32-.07.65-.07.98 0 .33.03.66.07.98l-2.110 1.650c-.19.15-.24.42-.12.64l2 3.460a.5.5 0 0 0 .61.22l2.490-1c.52.4 1.080.73 1.690.98l.38 2.650c.03.24.24.42.49.42h4c.25 0 .46-.18.49-.42l.38-2.650c.61-.25 1.170-.59 1.690-.98l2.490 1c.06.02.12.03.18.03.17 0 .34-.09.43-.25l2-3.460c.12-.22.07-.49-.12-.64l-2.110-1.650zm-1.980-1.710c.04.31.05.52.05.73 0 .21-.02.43-.05.73l-.14 1.130.89.7 1.080.84-.7 1.210-1.270-.51-1.040-.42-.9.68c-.43.32-.84.56-1.250.73l-1.060.43-.16 1.130-.2 1.350h-1.400l-.19-1.350-.16-1.130-1.060-.43c-.43-.18-.83-.41-1.230-.71l-.91-.7-1.060.43-1.270.51-.7-1.210 1.080-.84.89-.7-.14-1.130c-.03-.31-.05-.54-.05-.74s.02-.43.05-.73l.14-1.130-.89-.7-1.080-.84.7-1.210 1.270.51 1.040.42.9-.68c.43-.32.84-.56 1.250-.73l1.060-.43.16-1.130.2-1.350h1.390l.19 1.350.16 1.130 1.060.43c.43.18.83.41 1.230.71l.91.7 1.060-.43 1.270-.51.7 1.210-1.070.85-.89.7.14 1.130zM12 8.150c-2.130 0-3.850 1.720-3.850 3.850s1.720 3.850 3.850 3.850 3.850-1.720 3.850-3.850-1.720-3.850-3.850-3.850zm0 6.150c-1.270 0-2.300-1.030-2.300-2.300s1.030-2.300 2.300-2.300 2.300 1.030 2.300 2.300-1.030 2.300-2.300 2.300z"/></svg></div>
<div class="btn" style="left:1083px;width:268.2px">
<svg style="position:absolute;left:24.1px;top:8.9px" width="23" height="23" viewBox="0 0 27 27"><g transform="rotate(-45 13.5 13.5)"><rect x="0.4" y="9.2" width="26.2" height="8.6" fill="none" stroke="#0b63ce" stroke-width="2.800"/><path d="M5.800 10v3.800M10.900 10v3.800M16 10v3.800M21.100 10v3.800" stroke="#0b63ce" stroke-width="2.200"/></g></svg>
<span class="t b" style="left:54.6px;transform:scaleX(.964)">Whale Order Analysis</span></div>
<div class="ib"><svg width="27" height="27" viewBox="0 0 24 24" style="position:absolute;left:7.75px;top:8.1px"><path fill="#23272e" d="M23 12l-2.440-2.780.34-3.680-3.610-.82-1.890-3.180L12 3 8.600 1.540 6.710 4.720l-3.610.81.34 3.680L1 12l2.440 2.780-.34 3.690 3.610.82 1.890 3.180L12 21l3.400 1.460 1.890-3.180 3.610-.82-.34-3.680L23 12zm-4.510 2.110l.26 2.790-2.740.62-1.430 2.410L12 18.820l-2.580 1.110-1.430-2.410-2.740-.62.260-2.800L3.660 12l1.850-2.120-.26-2.780 2.740-.61 1.430-2.410L12 5.180l2.580-1.110 1.430 2.410 2.740.62-.26 2.790L20.340 12l-1.850 2.110zM11 15h2v2h-2zm0-8h2v6h-2z"/></svg></div>
</body></html>
